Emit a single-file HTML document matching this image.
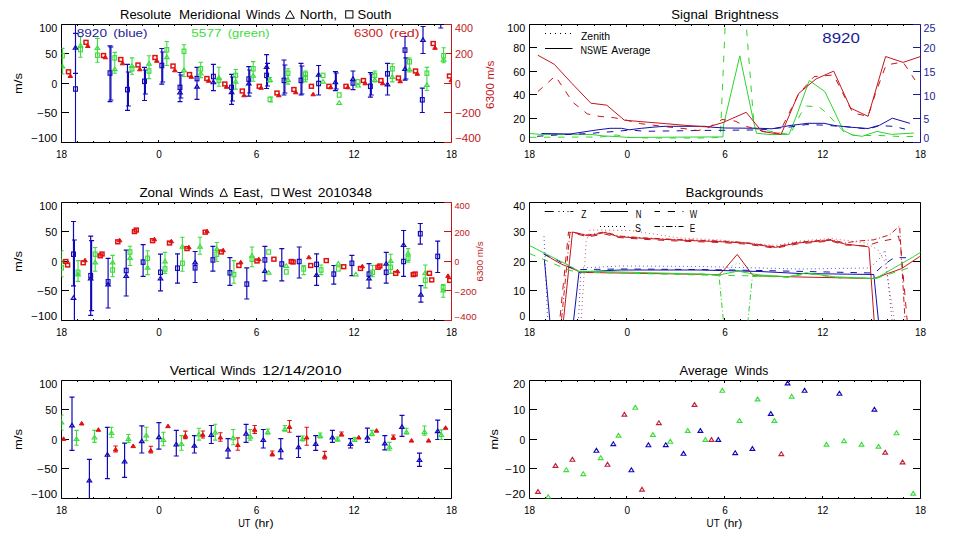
<!DOCTYPE html>
<html><head><meta charset="utf-8"><style>
html,body{margin:0;padding:0;background:#fff;}
svg{display:block;font-family:"Liberation Sans", sans-serif;}
</style></head><body>
<svg width="960" height="540" viewBox="0 0 960 540">
<defs>
<clipPath id="c1"><rect x="61.5" y="24.5" width="390" height="118"/></clipPath><clipPath id="c2"><rect x="529.5" y="24.5" width="391" height="118"/></clipPath><clipPath id="c3"><rect x="61.5" y="202.5" width="390" height="118"/></clipPath><clipPath id="c4"><rect x="529.5" y="202.5" width="391" height="118"/></clipPath><clipPath id="c5"><rect x="61.5" y="380.5" width="390" height="118"/></clipPath><clipPath id="c6"><rect x="529.5" y="380.5" width="391" height="118"/></clipPath>
</defs>
<rect width="960" height="540" fill="#fff"/>
<text x="120.0" y="18.8" font-size="12.5" text-anchor="start" fill="#000" textLength="51.3" lengthAdjust="spacingAndGlyphs">Resolute</text>
<text x="179.0" y="18.8" font-size="12.5" text-anchor="start" fill="#000" textLength="61.4" lengthAdjust="spacingAndGlyphs">Meridional</text>
<text x="246.1" y="18.8" font-size="12.5" text-anchor="start" fill="#000" textLength="34.2" lengthAdjust="spacingAndGlyphs">Winds</text>
<text x="299.7" y="18.8" font-size="12.5" text-anchor="start" fill="#000" textLength="37.4" lengthAdjust="spacingAndGlyphs">North,</text>
<text x="357.5" y="18.8" font-size="12.5" text-anchor="start" fill="#000" textLength="33.9" lengthAdjust="spacingAndGlyphs">South</text>
<path d="M285.5 18.3H294.4L289.9 10.5Z" stroke="#000" stroke-width="1" fill="none"/>
<rect x="345.7" y="10.8" width="7.2" height="7.2" stroke="#000" stroke-width="1" fill="none"/>
<text x="139.4" y="196.8" font-size="12.5" text-anchor="start" fill="#000" textLength="33.6" lengthAdjust="spacingAndGlyphs">Zonal</text>
<text x="179.4" y="196.8" font-size="12.5" text-anchor="start" fill="#000" textLength="34.2" lengthAdjust="spacingAndGlyphs">Winds</text>
<text x="233.3" y="196.8" font-size="12.5" text-anchor="start" fill="#000" textLength="30.0" lengthAdjust="spacingAndGlyphs">East,</text>
<text x="282.5" y="196.8" font-size="12.5" text-anchor="start" fill="#000" textLength="29.2" lengthAdjust="spacingAndGlyphs">West</text>
<text x="317.7" y="196.8" font-size="12.5" text-anchor="start" fill="#000" textLength="54.2" lengthAdjust="spacingAndGlyphs">2010348</text>
<path d="M220.0 196.3H227.5L223.8 188.5Z" stroke="#000" stroke-width="1" fill="none"/>
<rect x="271.9" y="188.8" width="6.8" height="6.8" stroke="#000" stroke-width="1" fill="none"/>
<text x="169.7" y="375.2" font-size="12.5" text-anchor="start" fill="#000" textLength="45.5" lengthAdjust="spacingAndGlyphs">Vertical</text>
<text x="220.7" y="375.2" font-size="12.5" text-anchor="start" fill="#000" textLength="34.9" lengthAdjust="spacingAndGlyphs">Winds</text>
<text x="261.9" y="375.2" font-size="12.5" text-anchor="start" fill="#000" textLength="79.8" lengthAdjust="spacingAndGlyphs">12/14/2010</text>
<text x="671.3" y="18.7" font-size="12.5" text-anchor="start" fill="#000" textLength="36.7" lengthAdjust="spacingAndGlyphs">Signal</text>
<text x="714.4" y="18.7" font-size="12.5" text-anchor="start" fill="#000" textLength="64.2" lengthAdjust="spacingAndGlyphs">Brightness</text>
<text x="685.6" y="196.6" font-size="12.5" text-anchor="start" fill="#000" textLength="77.5" lengthAdjust="spacingAndGlyphs">Backgrounds</text>
<text x="679.6" y="374.6" font-size="12.5" text-anchor="start" fill="#000" textLength="48.0" lengthAdjust="spacingAndGlyphs">Average</text>
<text x="734.8" y="374.6" font-size="12.5" text-anchor="start" fill="#000" textLength="33.4" lengthAdjust="spacingAndGlyphs">Winds</text>
<path d="M61.5 24.5H451.5M61.5 24.5V142.5H451.5" stroke="#000" stroke-width="1" fill="none"/>
<path d="M451.5 24.5V142.5" stroke="#c01818" stroke-width="1" fill="none"/>
<path d="M77.5 142.5v-1.5M77.5 24.5v1.5M93.5 142.5v-1.5M93.5 24.5v1.5M109.5 142.5v-1.5M109.5 24.5v1.5M126.5 142.5v-1.5M126.5 24.5v1.5M142.5 142.5v-1.5M142.5 24.5v1.5M158.5 142.5v-2.5M158.5 24.5v2.5M174.5 142.5v-1.5M174.5 24.5v1.5M191.5 142.5v-1.5M191.5 24.5v1.5M207.5 142.5v-1.5M207.5 24.5v1.5M223.5 142.5v-1.5M223.5 24.5v1.5M239.5 142.5v-1.5M239.5 24.5v1.5M256.5 142.5v-2.5M256.5 24.5v2.5M272.5 142.5v-1.5M272.5 24.5v1.5M288.5 142.5v-1.5M288.5 24.5v1.5M304.5 142.5v-1.5M304.5 24.5v1.5M321.5 142.5v-1.5M321.5 24.5v1.5M337.5 142.5v-1.5M337.5 24.5v1.5M353.5 142.5v-2.5M353.5 24.5v2.5M369.5 142.5v-1.5M369.5 24.5v1.5M386.5 142.5v-1.5M386.5 24.5v1.5M402.5 142.5v-1.5M402.5 24.5v1.5M418.5 142.5v-1.5M418.5 24.5v1.5M434.5 142.5v-1.5M434.5 24.5v1.5" stroke="#000" stroke-width="1" fill="none"/>
<text x="61.5" y="157.5" font-size="10" text-anchor="middle" fill="#000">18</text>
<text x="159.0" y="157.5" font-size="10" text-anchor="middle" fill="#000">0</text>
<text x="256.5" y="157.5" font-size="10" text-anchor="middle" fill="#000">6</text>
<text x="354.0" y="157.5" font-size="10" text-anchor="middle" fill="#000">12</text>
<text x="451.5" y="157.5" font-size="10" text-anchor="middle" fill="#000">18</text>
<path d="M61.5 142.5h7.5M61.5 112.5h7.5M61.5 83.5h7.5M61.5 53.5h7.5M61.5 24.5h7.5" stroke="#000" stroke-width="1" fill="none"/>
<text x="57.2" y="142.3" font-size="10" text-anchor="end" fill="#000" textLength="26.0" lengthAdjust="spacingAndGlyphs">−100</text>
<text x="57.2" y="117.0" font-size="10" text-anchor="end" fill="#000" textLength="19.9" lengthAdjust="spacingAndGlyphs">−50</text>
<text x="57.2" y="87.5" font-size="10" text-anchor="end" fill="#000" textLength="5.7" lengthAdjust="spacingAndGlyphs">0</text>
<text x="57.2" y="58.0" font-size="10" text-anchor="end" fill="#000" textLength="11.9" lengthAdjust="spacingAndGlyphs">50</text>
<text x="57.2" y="31.7" font-size="10" text-anchor="end" fill="#000" textLength="18.0" lengthAdjust="spacingAndGlyphs">100</text>
<path d="M451.5 142.5h-7.5M451.5 112.5h-7.5M451.5 83.5h-7.5M451.5 53.5h-7.5M451.5 24.5h-7.5" stroke="#c01818" stroke-width="1" fill="none"/>
<text x="455.0" y="142.3" font-size="10.5" text-anchor="start" fill="#c01818" textLength="26.0" lengthAdjust="spacingAndGlyphs">−400</text>
<text x="455.0" y="117.2" font-size="10.5" text-anchor="start" fill="#c01818" textLength="26.0" lengthAdjust="spacingAndGlyphs">−200</text>
<text x="455.0" y="87.7" font-size="10.5" text-anchor="start" fill="#c01818" textLength="5.7" lengthAdjust="spacingAndGlyphs">0</text>
<text x="455.0" y="58.2" font-size="10.5" text-anchor="start" fill="#c01818" textLength="18.0" lengthAdjust="spacingAndGlyphs">200</text>
<text x="455.0" y="32.0" font-size="10.5" text-anchor="start" fill="#c01818" textLength="18.0" lengthAdjust="spacingAndGlyphs">400</text>
<text transform="translate(22,83.5) rotate(-90)" x="0" y="0" font-size="10" text-anchor="middle" fill="#000" textLength="21" lengthAdjust="spacingAndGlyphs">m/s</text>
<text transform="translate(494,84.8) rotate(-90)" x="0" y="0" font-size="11" text-anchor="middle" fill="#c01818" textLength="48.5" lengthAdjust="spacingAndGlyphs">6300 m/s</text>
<path d="M61.5 202.5H451.5M61.5 202.5V320.5H451.5" stroke="#000" stroke-width="1" fill="none"/>
<path d="M451.5 202.5V320.5" stroke="#c01818" stroke-width="1" fill="none"/>
<path d="M77.5 320.5v-1.5M77.5 202.5v1.5M93.5 320.5v-1.5M93.5 202.5v1.5M109.5 320.5v-1.5M109.5 202.5v1.5M126.5 320.5v-1.5M126.5 202.5v1.5M142.5 320.5v-1.5M142.5 202.5v1.5M158.5 320.5v-2.5M158.5 202.5v2.5M174.5 320.5v-1.5M174.5 202.5v1.5M191.5 320.5v-1.5M191.5 202.5v1.5M207.5 320.5v-1.5M207.5 202.5v1.5M223.5 320.5v-1.5M223.5 202.5v1.5M239.5 320.5v-1.5M239.5 202.5v1.5M256.5 320.5v-2.5M256.5 202.5v2.5M272.5 320.5v-1.5M272.5 202.5v1.5M288.5 320.5v-1.5M288.5 202.5v1.5M304.5 320.5v-1.5M304.5 202.5v1.5M321.5 320.5v-1.5M321.5 202.5v1.5M337.5 320.5v-1.5M337.5 202.5v1.5M353.5 320.5v-2.5M353.5 202.5v2.5M369.5 320.5v-1.5M369.5 202.5v1.5M386.5 320.5v-1.5M386.5 202.5v1.5M402.5 320.5v-1.5M402.5 202.5v1.5M418.5 320.5v-1.5M418.5 202.5v1.5M434.5 320.5v-1.5M434.5 202.5v1.5" stroke="#000" stroke-width="1" fill="none"/>
<text x="61.5" y="335.5" font-size="10" text-anchor="middle" fill="#000">18</text>
<text x="159.0" y="335.5" font-size="10" text-anchor="middle" fill="#000">0</text>
<text x="256.5" y="335.5" font-size="10" text-anchor="middle" fill="#000">6</text>
<text x="354.0" y="335.5" font-size="10" text-anchor="middle" fill="#000">12</text>
<text x="451.5" y="335.5" font-size="10" text-anchor="middle" fill="#000">18</text>
<path d="M61.5 320.5h7.5M61.5 290.5h7.5M61.5 261.5h7.5M61.5 231.5h7.5M61.5 202.5h7.5" stroke="#000" stroke-width="1" fill="none"/>
<text x="57.2" y="320.3" font-size="10" text-anchor="end" fill="#000" textLength="26.0" lengthAdjust="spacingAndGlyphs">−100</text>
<text x="57.2" y="295.0" font-size="10" text-anchor="end" fill="#000" textLength="19.9" lengthAdjust="spacingAndGlyphs">−50</text>
<text x="57.2" y="265.5" font-size="10" text-anchor="end" fill="#000" textLength="5.7" lengthAdjust="spacingAndGlyphs">0</text>
<text x="57.2" y="236.0" font-size="10" text-anchor="end" fill="#000" textLength="11.9" lengthAdjust="spacingAndGlyphs">50</text>
<text x="57.2" y="209.7" font-size="10" text-anchor="end" fill="#000" textLength="18.0" lengthAdjust="spacingAndGlyphs">100</text>
<path d="M451.5 320.5h-7.5M451.5 290.5h-7.5M451.5 261.5h-7.5M451.5 231.5h-7.5M451.5 202.5h-7.5" stroke="#c01818" stroke-width="1" fill="none"/>
<text x="454.5" y="320.3" font-size="8.5" text-anchor="start" fill="#c01818" textLength="22.1" lengthAdjust="spacingAndGlyphs">−400</text>
<text x="454.5" y="294.5" font-size="8.5" text-anchor="start" fill="#c01818" textLength="22.1" lengthAdjust="spacingAndGlyphs">−200</text>
<text x="454.5" y="265.0" font-size="8.5" text-anchor="start" fill="#c01818" textLength="4.8" lengthAdjust="spacingAndGlyphs">0</text>
<text x="454.5" y="235.5" font-size="8.5" text-anchor="start" fill="#c01818" textLength="15.3" lengthAdjust="spacingAndGlyphs">200</text>
<text x="454.5" y="208.6" font-size="8.5" text-anchor="start" fill="#c01818" textLength="15.3" lengthAdjust="spacingAndGlyphs">400</text>
<text transform="translate(22,261.5) rotate(-90)" x="0" y="0" font-size="10" text-anchor="middle" fill="#000" textLength="21" lengthAdjust="spacingAndGlyphs">m/s</text>
<text transform="translate(483,261.5) rotate(-90)" x="0" y="0" font-size="9" text-anchor="middle" fill="#c01818" textLength="40" lengthAdjust="spacingAndGlyphs">6300 m/s</text>
<path d="M61.5 380.5H451.5M61.5 380.5V498.5H451.5" stroke="#000" stroke-width="1" fill="none"/>
<path d="M451.5 380.5V498.5" stroke="#000" stroke-width="1" fill="none"/>
<path d="M77.5 498.5v-1.5M77.5 380.5v1.5M93.5 498.5v-1.5M93.5 380.5v1.5M109.5 498.5v-1.5M109.5 380.5v1.5M126.5 498.5v-1.5M126.5 380.5v1.5M142.5 498.5v-1.5M142.5 380.5v1.5M158.5 498.5v-2.5M158.5 380.5v2.5M174.5 498.5v-1.5M174.5 380.5v1.5M191.5 498.5v-1.5M191.5 380.5v1.5M207.5 498.5v-1.5M207.5 380.5v1.5M223.5 498.5v-1.5M223.5 380.5v1.5M239.5 498.5v-1.5M239.5 380.5v1.5M256.5 498.5v-2.5M256.5 380.5v2.5M272.5 498.5v-1.5M272.5 380.5v1.5M288.5 498.5v-1.5M288.5 380.5v1.5M304.5 498.5v-1.5M304.5 380.5v1.5M321.5 498.5v-1.5M321.5 380.5v1.5M337.5 498.5v-1.5M337.5 380.5v1.5M353.5 498.5v-2.5M353.5 380.5v2.5M369.5 498.5v-1.5M369.5 380.5v1.5M386.5 498.5v-1.5M386.5 380.5v1.5M402.5 498.5v-1.5M402.5 380.5v1.5M418.5 498.5v-1.5M418.5 380.5v1.5M434.5 498.5v-1.5M434.5 380.5v1.5" stroke="#000" stroke-width="1" fill="none"/>
<text x="61.5" y="513.5" font-size="10" text-anchor="middle" fill="#000">18</text>
<text x="159.0" y="513.5" font-size="10" text-anchor="middle" fill="#000">0</text>
<text x="256.5" y="513.5" font-size="10" text-anchor="middle" fill="#000">6</text>
<text x="354.0" y="513.5" font-size="10" text-anchor="middle" fill="#000">12</text>
<text x="451.5" y="513.5" font-size="10" text-anchor="middle" fill="#000">18</text>
<path d="M61.5 498.5h7.5M61.5 468.5h7.5M61.5 439.5h7.5M61.5 409.5h7.5M61.5 380.5h7.5" stroke="#000" stroke-width="1" fill="none"/>
<text x="57.2" y="498.3" font-size="10" text-anchor="end" fill="#000" textLength="26.0" lengthAdjust="spacingAndGlyphs">−100</text>
<text x="57.2" y="473.0" font-size="10" text-anchor="end" fill="#000" textLength="19.9" lengthAdjust="spacingAndGlyphs">−50</text>
<text x="57.2" y="443.5" font-size="10" text-anchor="end" fill="#000" textLength="5.7" lengthAdjust="spacingAndGlyphs">0</text>
<text x="57.2" y="414.0" font-size="10" text-anchor="end" fill="#000" textLength="11.9" lengthAdjust="spacingAndGlyphs">50</text>
<text x="57.2" y="387.7" font-size="10" text-anchor="end" fill="#000" textLength="18.0" lengthAdjust="spacingAndGlyphs">100</text>
<path d="M451.5 498.5h-7.5M451.5 468.5h-7.5M451.5 439.5h-7.5M451.5 409.5h-7.5M451.5 380.5h-7.5" stroke="#000" stroke-width="1" fill="none"/>
<text transform="translate(22,439.5) rotate(-90)" x="0" y="0" font-size="10" text-anchor="middle" fill="#000" textLength="21" lengthAdjust="spacingAndGlyphs">m/s</text>
<text x="238.2" y="526.8" font-size="10.5" text-anchor="start" fill="#000" textLength="12.3" lengthAdjust="spacingAndGlyphs">UT</text>
<text x="254.4" y="526.8" font-size="10.5" text-anchor="start" fill="#000" textLength="19.2" lengthAdjust="spacingAndGlyphs">(hr)</text>
<path d="M529.5 24.5H920.5M529.5 24.5V142.5H920.5" stroke="#000" stroke-width="1" fill="none"/>
<path d="M920.5 24.5V142.5" stroke="#1c1c96" stroke-width="1" fill="none"/>
<path d="M545.5 142.5v-1.5M545.5 24.5v1.5M561.5 142.5v-1.5M561.5 24.5v1.5M577.5 142.5v-1.5M577.5 24.5v1.5M594.5 142.5v-1.5M594.5 24.5v1.5M610.5 142.5v-1.5M610.5 24.5v1.5M626.5 142.5v-2.5M626.5 24.5v2.5M643.5 142.5v-1.5M643.5 24.5v1.5M659.5 142.5v-1.5M659.5 24.5v1.5M675.5 142.5v-1.5M675.5 24.5v1.5M691.5 142.5v-1.5M691.5 24.5v1.5M708.5 142.5v-1.5M708.5 24.5v1.5M724.5 142.5v-2.5M724.5 24.5v2.5M740.5 142.5v-1.5M740.5 24.5v1.5M757.5 142.5v-1.5M757.5 24.5v1.5M773.5 142.5v-1.5M773.5 24.5v1.5M789.5 142.5v-1.5M789.5 24.5v1.5M805.5 142.5v-1.5M805.5 24.5v1.5M822.5 142.5v-2.5M822.5 24.5v2.5M838.5 142.5v-1.5M838.5 24.5v1.5M854.5 142.5v-1.5M854.5 24.5v1.5M871.5 142.5v-1.5M871.5 24.5v1.5M887.5 142.5v-1.5M887.5 24.5v1.5M903.5 142.5v-1.5M903.5 24.5v1.5" stroke="#000" stroke-width="1" fill="none"/>
<text x="529.5" y="157.5" font-size="10" text-anchor="middle" fill="#000">18</text>
<text x="627.2" y="157.5" font-size="10" text-anchor="middle" fill="#000">0</text>
<text x="725.0" y="157.5" font-size="10" text-anchor="middle" fill="#000">6</text>
<text x="822.8" y="157.5" font-size="10" text-anchor="middle" fill="#000">12</text>
<text x="920.5" y="157.5" font-size="10" text-anchor="middle" fill="#000">18</text>
<path d="M529.5 142.5h7.5M529.5 118.5h7.5M529.5 94.5h7.5M529.5 71.5h7.5M529.5 47.5h7.5M529.5 24.5h7.5" stroke="#000" stroke-width="1" fill="none"/>
<text x="525.2" y="142.3" font-size="10" text-anchor="end" fill="#000" textLength="5.7" lengthAdjust="spacingAndGlyphs">0</text>
<text x="525.2" y="122.9" font-size="10" text-anchor="end" fill="#000" textLength="11.9" lengthAdjust="spacingAndGlyphs">20</text>
<text x="525.2" y="99.3" font-size="10" text-anchor="end" fill="#000" textLength="11.9" lengthAdjust="spacingAndGlyphs">40</text>
<text x="525.2" y="75.7" font-size="10" text-anchor="end" fill="#000" textLength="11.9" lengthAdjust="spacingAndGlyphs">60</text>
<text x="525.2" y="52.1" font-size="10" text-anchor="end" fill="#000" textLength="11.9" lengthAdjust="spacingAndGlyphs">80</text>
<text x="525.2" y="31.7" font-size="10" text-anchor="end" fill="#000" textLength="18.0" lengthAdjust="spacingAndGlyphs">100</text>
<path d="M920.5 142.5h-7.5M920.5 118.5h-7.5M920.5 94.5h-7.5M920.5 71.5h-7.5M920.5 47.5h-7.5M920.5 24.5h-7.5" stroke="#1c1c96" stroke-width="1" fill="none"/>
<text x="923.5" y="142.3" font-size="10.5" text-anchor="start" fill="#1c1c96" textLength="5.7" lengthAdjust="spacingAndGlyphs">0</text>
<text x="923.5" y="123.1" font-size="10.5" text-anchor="start" fill="#1c1c96" textLength="5.7" lengthAdjust="spacingAndGlyphs">5</text>
<text x="923.5" y="99.5" font-size="10.5" text-anchor="start" fill="#1c1c96" textLength="11.9" lengthAdjust="spacingAndGlyphs">10</text>
<text x="923.5" y="75.9" font-size="10.5" text-anchor="start" fill="#1c1c96" textLength="11.9" lengthAdjust="spacingAndGlyphs">15</text>
<text x="923.5" y="52.3" font-size="10.5" text-anchor="start" fill="#1c1c96" textLength="11.9" lengthAdjust="spacingAndGlyphs">20</text>
<text x="923.5" y="32.0" font-size="10.5" text-anchor="start" fill="#1c1c96" textLength="11.9" lengthAdjust="spacingAndGlyphs">25</text>
<path d="M529.5 202.5H920.5M529.5 202.5V320.5H920.5" stroke="#000" stroke-width="1" fill="none"/>
<path d="M920.5 202.5V320.5" stroke="#000" stroke-width="1" fill="none"/>
<path d="M545.5 320.5v-1.5M545.5 202.5v1.5M561.5 320.5v-1.5M561.5 202.5v1.5M577.5 320.5v-1.5M577.5 202.5v1.5M594.5 320.5v-1.5M594.5 202.5v1.5M610.5 320.5v-1.5M610.5 202.5v1.5M626.5 320.5v-2.5M626.5 202.5v2.5M643.5 320.5v-1.5M643.5 202.5v1.5M659.5 320.5v-1.5M659.5 202.5v1.5M675.5 320.5v-1.5M675.5 202.5v1.5M691.5 320.5v-1.5M691.5 202.5v1.5M708.5 320.5v-1.5M708.5 202.5v1.5M724.5 320.5v-2.5M724.5 202.5v2.5M740.5 320.5v-1.5M740.5 202.5v1.5M757.5 320.5v-1.5M757.5 202.5v1.5M773.5 320.5v-1.5M773.5 202.5v1.5M789.5 320.5v-1.5M789.5 202.5v1.5M805.5 320.5v-1.5M805.5 202.5v1.5M822.5 320.5v-2.5M822.5 202.5v2.5M838.5 320.5v-1.5M838.5 202.5v1.5M854.5 320.5v-1.5M854.5 202.5v1.5M871.5 320.5v-1.5M871.5 202.5v1.5M887.5 320.5v-1.5M887.5 202.5v1.5M903.5 320.5v-1.5M903.5 202.5v1.5" stroke="#000" stroke-width="1" fill="none"/>
<text x="529.5" y="335.5" font-size="10" text-anchor="middle" fill="#000">18</text>
<text x="627.2" y="335.5" font-size="10" text-anchor="middle" fill="#000">0</text>
<text x="725.0" y="335.5" font-size="10" text-anchor="middle" fill="#000">6</text>
<text x="822.8" y="335.5" font-size="10" text-anchor="middle" fill="#000">12</text>
<text x="920.5" y="335.5" font-size="10" text-anchor="middle" fill="#000">18</text>
<path d="M529.5 320.5h7.5M529.5 290.5h7.5M529.5 261.5h7.5M529.5 231.5h7.5M529.5 202.5h7.5" stroke="#000" stroke-width="1" fill="none"/>
<text x="525.2" y="320.3" font-size="10" text-anchor="end" fill="#000" textLength="5.7" lengthAdjust="spacingAndGlyphs">0</text>
<text x="525.2" y="295.0" font-size="10" text-anchor="end" fill="#000" textLength="11.9" lengthAdjust="spacingAndGlyphs">10</text>
<text x="525.2" y="265.5" font-size="10" text-anchor="end" fill="#000" textLength="11.9" lengthAdjust="spacingAndGlyphs">20</text>
<text x="525.2" y="236.0" font-size="10" text-anchor="end" fill="#000" textLength="11.9" lengthAdjust="spacingAndGlyphs">30</text>
<text x="525.2" y="209.7" font-size="10" text-anchor="end" fill="#000" textLength="11.9" lengthAdjust="spacingAndGlyphs">40</text>
<path d="M920.5 320.5h-7.5M920.5 290.5h-7.5M920.5 261.5h-7.5M920.5 231.5h-7.5M920.5 202.5h-7.5" stroke="#000" stroke-width="1" fill="none"/>
<path d="M529.5 380.5H920.5M529.5 380.5V498.5H920.5" stroke="#000" stroke-width="1" fill="none"/>
<path d="M920.5 380.5V498.5" stroke="#000" stroke-width="1" fill="none"/>
<path d="M545.5 498.5v-1.5M545.5 380.5v1.5M561.5 498.5v-1.5M561.5 380.5v1.5M577.5 498.5v-1.5M577.5 380.5v1.5M594.5 498.5v-1.5M594.5 380.5v1.5M610.5 498.5v-1.5M610.5 380.5v1.5M626.5 498.5v-2.5M626.5 380.5v2.5M643.5 498.5v-1.5M643.5 380.5v1.5M659.5 498.5v-1.5M659.5 380.5v1.5M675.5 498.5v-1.5M675.5 380.5v1.5M691.5 498.5v-1.5M691.5 380.5v1.5M708.5 498.5v-1.5M708.5 380.5v1.5M724.5 498.5v-2.5M724.5 380.5v2.5M740.5 498.5v-1.5M740.5 380.5v1.5M757.5 498.5v-1.5M757.5 380.5v1.5M773.5 498.5v-1.5M773.5 380.5v1.5M789.5 498.5v-1.5M789.5 380.5v1.5M805.5 498.5v-1.5M805.5 380.5v1.5M822.5 498.5v-2.5M822.5 380.5v2.5M838.5 498.5v-1.5M838.5 380.5v1.5M854.5 498.5v-1.5M854.5 380.5v1.5M871.5 498.5v-1.5M871.5 380.5v1.5M887.5 498.5v-1.5M887.5 380.5v1.5M903.5 498.5v-1.5M903.5 380.5v1.5" stroke="#000" stroke-width="1" fill="none"/>
<text x="529.5" y="513.5" font-size="10" text-anchor="middle" fill="#000">18</text>
<text x="627.2" y="513.5" font-size="10" text-anchor="middle" fill="#000">0</text>
<text x="725.0" y="513.5" font-size="10" text-anchor="middle" fill="#000">6</text>
<text x="822.8" y="513.5" font-size="10" text-anchor="middle" fill="#000">12</text>
<text x="920.5" y="513.5" font-size="10" text-anchor="middle" fill="#000">18</text>
<path d="M529.5 498.5h7.5M529.5 468.5h7.5M529.5 439.5h7.5M529.5 409.5h7.5M529.5 380.5h7.5" stroke="#000" stroke-width="1" fill="none"/>
<text x="525.2" y="498.3" font-size="10" text-anchor="end" fill="#000" textLength="19.9" lengthAdjust="spacingAndGlyphs">−20</text>
<text x="525.2" y="473.0" font-size="10" text-anchor="end" fill="#000" textLength="19.9" lengthAdjust="spacingAndGlyphs">−10</text>
<text x="525.2" y="443.5" font-size="10" text-anchor="end" fill="#000" textLength="5.7" lengthAdjust="spacingAndGlyphs">0</text>
<text x="525.2" y="414.0" font-size="10" text-anchor="end" fill="#000" textLength="11.9" lengthAdjust="spacingAndGlyphs">10</text>
<text x="525.2" y="387.7" font-size="10" text-anchor="end" fill="#000" textLength="11.9" lengthAdjust="spacingAndGlyphs">20</text>
<path d="M920.5 498.5h-7.5M920.5 468.5h-7.5M920.5 439.5h-7.5M920.5 409.5h-7.5M920.5 380.5h-7.5" stroke="#000" stroke-width="1" fill="none"/>
<text transform="translate(498.2,439.4) rotate(-90)" x="0" y="0" font-size="10" text-anchor="middle" fill="#000" textLength="20.4" lengthAdjust="spacingAndGlyphs">m/s</text>
<text x="706.6" y="526.9" font-size="10.5" text-anchor="start" fill="#000" textLength="13.1" lengthAdjust="spacingAndGlyphs">UT</text>
<text x="723.7" y="526.9" font-size="10.5" text-anchor="start" fill="#000" textLength="18.6" lengthAdjust="spacingAndGlyphs">(hr)</text>
<g clip-path="url(#c1)"><path d="M62.4 48.4V74.0M60.2 48.4h4.4M60.2 74.0h4.4" stroke="#3fdc3f" stroke-width="1.1" fill="none"/><rect x="60.5" y="53.5" width="3.8" height="4.4" stroke="#3fdc3f" stroke-width="1.15" fill="none"/><path d="M60.1 67.8H64.7L62.4 64.2Z" stroke="#3fdc3f" stroke-width="1.15" fill="none" stroke-linejoin="miter"/><rect x="66.5" y="69.9" width="4.0" height="3.8" stroke="#e01010" stroke-width="1.5" fill="none"/><path d="M68.0 77.5H72.6L70.3 73.9Z" stroke="#e01010" stroke-width="1.0" fill="#e01010" stroke-linejoin="miter"/><path d="M75.5 10.0V160.0M73.0 10.0h5.0M73.0 160.0h5.0" stroke="#1008b8" stroke-width="1.1" fill="none"/><path d="M75.5 33.4V73.4M73.0 33.4h5.0M73.0 73.4h5.0" stroke="#1008b8" stroke-width="1.1" fill="none"/><path d="M73.2 49.1H77.8L75.5 45.5Z" stroke="#1008b8" stroke-width="1.15" fill="none" stroke-linejoin="miter"/><rect x="73.6" y="86.8" width="3.8" height="4.4" stroke="#1008b8" stroke-width="1.15" fill="none"/><path d="M80.5 36.8V57.3M78.3 36.8h4.4M78.3 57.3h4.4" stroke="#3fdc3f" stroke-width="1.1" fill="none"/><path d="M78.2 46.8H82.8L80.5 43.2Z" stroke="#3fdc3f" stroke-width="1.15" fill="none" stroke-linejoin="miter"/><rect x="78.6" y="47.4" width="3.8" height="4.4" stroke="#3fdc3f" stroke-width="1.15" fill="none"/><rect x="84.0" y="40.4" width="4.0" height="3.8" stroke="#e01010" stroke-width="1.5" fill="none"/><path d="M85.5 47.5H90.1L87.8 43.9Z" stroke="#e01010" stroke-width="1.0" fill="#e01010" stroke-linejoin="miter"/><path d="M97.4 38.4V62.3M95.2 38.4h4.4M95.2 62.3h4.4" stroke="#3fdc3f" stroke-width="1.1" fill="none"/><path d="M95.1 49.3H99.7L97.4 45.7Z" stroke="#3fdc3f" stroke-width="1.15" fill="none" stroke-linejoin="miter"/><rect x="95.5" y="53.0" width="3.8" height="4.4" stroke="#3fdc3f" stroke-width="1.15" fill="none"/><rect x="101.5" y="53.6" width="4.0" height="3.8" stroke="#e01010" stroke-width="1.5" fill="none"/><path d="M103.0 58.8H107.6L105.3 55.2Z" stroke="#e01010" stroke-width="1.0" fill="#e01010" stroke-linejoin="miter"/><path d="M110.0 45.9V101.6M107.5 45.9h5.0M107.5 101.6h5.0" stroke="#1008b8" stroke-width="1.2" fill="none"/><path d="M110.9 47.0V100.0M108.4 47.0h5.0M108.4 100.0h5.0" stroke="#1008b8" stroke-width="1.2" fill="none"/><rect x="108.1" y="70.8" width="3.8" height="4.4" stroke="#1008b8" stroke-width="1.15" fill="none"/><path d="M114.8 52.4V73.2M112.6 52.4h4.4M112.6 73.2h4.4" stroke="#3fdc3f" stroke-width="1.1" fill="none"/><rect x="112.9" y="55.7" width="3.8" height="4.4" stroke="#3fdc3f" stroke-width="1.15" fill="none"/><path d="M112.5 70.6H117.1L114.8 67.0Z" stroke="#3fdc3f" stroke-width="1.15" fill="none" stroke-linejoin="miter"/><rect x="118.8" y="57.6" width="4.0" height="3.8" stroke="#e01010" stroke-width="1.5" fill="none"/><path d="M120.3 64.8H124.9L122.6 61.2Z" stroke="#e01010" stroke-width="1.0" fill="#e01010" stroke-linejoin="miter"/><path d="M127.5 64.4V110.3M125.0 64.4h5.0M125.0 110.3h5.0" stroke="#1008b8" stroke-width="1.2" fill="none"/><path d="M128.4 72.0V106.0M125.9 72.0h5.0M125.9 106.0h5.0" stroke="#1008b8" stroke-width="1.2" fill="none"/><rect x="125.6" y="87.4" width="3.8" height="4.4" stroke="#1008b8" stroke-width="1.15" fill="none"/><path d="M132.0 57.9V74.3M129.8 57.9h4.4M129.8 74.3h4.4" stroke="#3fdc3f" stroke-width="1.1" fill="none"/><path d="M129.7 67.3H134.3L132.0 63.7Z" stroke="#3fdc3f" stroke-width="1.15" fill="none" stroke-linejoin="miter"/><rect x="130.1" y="66.6" width="3.8" height="4.4" stroke="#3fdc3f" stroke-width="1.15" fill="none"/><rect x="136.0" y="63.1" width="4.0" height="3.8" stroke="#e01010" stroke-width="1.5" fill="none"/><path d="M137.5 70.8H142.1L139.8 67.2Z" stroke="#e01010" stroke-width="1.0" fill="#e01010" stroke-linejoin="miter"/><path d="M144.5 67.3V100.5M142.0 67.3h5.0M142.0 100.5h5.0" stroke="#1008b8" stroke-width="1.2" fill="none"/><path d="M145.4 70.0V94.0M142.9 70.0h5.0M142.9 94.0h5.0" stroke="#1008b8" stroke-width="1.2" fill="none"/><rect x="142.6" y="79.1" width="3.8" height="4.4" stroke="#1008b8" stroke-width="1.15" fill="none"/><path d="M149.0 55.7V78.6M146.8 55.7h4.4M146.8 78.6h4.4" stroke="#3fdc3f" stroke-width="1.1" fill="none"/><path d="M146.7 65.1H151.3L149.0 61.5Z" stroke="#3fdc3f" stroke-width="1.15" fill="none" stroke-linejoin="miter"/><rect x="147.1" y="68.8" width="3.8" height="4.4" stroke="#3fdc3f" stroke-width="1.15" fill="none"/><rect x="153.0" y="55.6" width="4.0" height="3.8" stroke="#e01010" stroke-width="1.5" fill="none"/><path d="M154.5 62.3H159.1L156.8 58.7Z" stroke="#e01010" stroke-width="1.0" fill="#e01010" stroke-linejoin="miter"/><path d="M161.8 48.5V84.1M159.3 48.5h5.0M159.3 84.1h5.0" stroke="#1008b8" stroke-width="1.2" fill="none"/><path d="M162.7 52.0V82.0M160.2 52.0h5.0M160.2 82.0h5.0" stroke="#1008b8" stroke-width="1.2" fill="none"/><rect x="159.9" y="63.3" width="3.8" height="4.4" stroke="#1008b8" stroke-width="1.15" fill="none"/><path d="M166.8 41.5V65.5M164.6 41.5h4.4M164.6 65.5h4.4" stroke="#3fdc3f" stroke-width="1.1" fill="none"/><path d="M164.5 58.6H169.1L166.8 55.0Z" stroke="#3fdc3f" stroke-width="1.15" fill="none" stroke-linejoin="miter"/><rect x="164.9" y="47.6" width="3.8" height="4.4" stroke="#3fdc3f" stroke-width="1.15" fill="none"/><rect x="171.0" y="64.1" width="4.0" height="3.8" stroke="#e01010" stroke-width="1.5" fill="none"/><path d="M172.5 71.8H177.1L174.8 68.2Z" stroke="#e01010" stroke-width="1.0" fill="#e01010" stroke-linejoin="miter"/><path d="M180.0 72.5V101.6M177.5 72.5h5.0M177.5 101.6h5.0" stroke="#1008b8" stroke-width="1.2" fill="none"/><path d="M180.9 75.0V98.0M178.4 75.0h5.0M178.4 98.0h5.0" stroke="#1008b8" stroke-width="1.2" fill="none"/><rect x="178.1" y="85.2" width="3.8" height="4.4" stroke="#1008b8" stroke-width="1.15" fill="none"/><path d="M177.7 93.8H182.3L180.0 90.2Z" stroke="#1008b8" stroke-width="1.15" fill="none" stroke-linejoin="miter"/><path d="M184.0 44.8V76.5M181.8 44.8h4.4M181.8 76.5h4.4" stroke="#3fdc3f" stroke-width="1.1" fill="none"/><rect x="182.1" y="49.1" width="3.8" height="4.4" stroke="#3fdc3f" stroke-width="1.15" fill="none"/><path d="M181.7 71.7H186.3L184.0 68.1Z" stroke="#3fdc3f" stroke-width="1.15" fill="none" stroke-linejoin="miter"/><rect x="187.5" y="72.6" width="4.0" height="3.8" stroke="#e01010" stroke-width="1.5" fill="none"/><path d="M189.0 78.3H193.6L191.3 74.7Z" stroke="#e01010" stroke-width="1.0" fill="#e01010" stroke-linejoin="miter"/><path d="M197.0 67.3V99.4M194.5 67.3h5.0M194.5 99.4h5.0" stroke="#1008b8" stroke-width="1.2" fill="none"/><rect x="195.1" y="76.4" width="3.8" height="4.4" stroke="#1008b8" stroke-width="1.15" fill="none"/><path d="M194.7 88.1H199.3L197.0 84.5Z" stroke="#1008b8" stroke-width="1.15" fill="none" stroke-linejoin="miter"/><path d="M200.7 62.3V77.6M198.5 62.3h4.4M198.5 77.6h4.4" stroke="#3fdc3f" stroke-width="1.1" fill="none"/><rect x="198.8" y="66.6" width="3.8" height="4.4" stroke="#3fdc3f" stroke-width="1.15" fill="none"/><path d="M198.4 75.0H203.0L200.7 71.4Z" stroke="#3fdc3f" stroke-width="1.15" fill="none" stroke-linejoin="miter"/><rect x="204.9" y="76.6" width="4.0" height="3.8" stroke="#e01010" stroke-width="1.5" fill="none"/><path d="M206.4 82.3H211.0L208.7 78.7Z" stroke="#e01010" stroke-width="1.0" fill="#e01010" stroke-linejoin="miter"/><path d="M213.4 64.4V90.7M210.9 64.4h5.0M210.9 90.7h5.0" stroke="#1008b8" stroke-width="1.2" fill="none"/><rect x="211.5" y="74.3" width="3.8" height="4.4" stroke="#1008b8" stroke-width="1.15" fill="none"/><path d="M211.1 83.7H215.7L213.4 80.1Z" stroke="#1008b8" stroke-width="1.15" fill="none" stroke-linejoin="miter"/><path d="M218.9 67.3V86.3M216.7 67.3h4.4M216.7 86.3h4.4" stroke="#3fdc3f" stroke-width="1.1" fill="none"/><path d="M216.6 79.4H221.2L218.9 75.8Z" stroke="#3fdc3f" stroke-width="1.15" fill="none" stroke-linejoin="miter"/><rect x="217.0" y="78.2" width="3.8" height="4.4" stroke="#3fdc3f" stroke-width="1.15" fill="none"/><rect x="222.8" y="82.1" width="4.0" height="3.8" stroke="#e01010" stroke-width="1.5" fill="none"/><path d="M224.3 88.3H228.9L226.6 84.7Z" stroke="#e01010" stroke-width="1.0" fill="#e01010" stroke-linejoin="miter"/><path d="M231.6 74.3V104.4M229.1 74.3h5.0M229.1 104.4h5.0" stroke="#1008b8" stroke-width="1.2" fill="none"/><path d="M232.5 77.0V101.0M230.0 77.0h5.0M230.0 101.0h5.0" stroke="#1008b8" stroke-width="1.2" fill="none"/><rect x="229.7" y="85.2" width="3.8" height="4.4" stroke="#1008b8" stroke-width="1.15" fill="none"/><path d="M229.3 93.6H233.9L231.6 90.0Z" stroke="#1008b8" stroke-width="1.15" fill="none" stroke-linejoin="miter"/><path d="M235.7 69.5V89.1M233.5 69.5h4.4M233.5 89.1h4.4" stroke="#3fdc3f" stroke-width="1.1" fill="none"/><rect x="233.8" y="73.2" width="3.8" height="4.4" stroke="#3fdc3f" stroke-width="1.15" fill="none"/><path d="M233.4 83.1H238.0L235.7 79.5Z" stroke="#3fdc3f" stroke-width="1.15" fill="none" stroke-linejoin="miter"/><rect x="240.3" y="89.1" width="4.0" height="3.8" stroke="#e01010" stroke-width="1.5" fill="none"/><path d="M241.8 96.8H246.4L244.1 93.2Z" stroke="#e01010" stroke-width="1.0" fill="#e01010" stroke-linejoin="miter"/><path d="M248.8 66.6V96.1M246.3 66.6h5.0M246.3 96.1h5.0" stroke="#1008b8" stroke-width="1.2" fill="none"/><path d="M249.7 70.0V93.0M247.2 70.0h5.0M247.2 93.0h5.0" stroke="#1008b8" stroke-width="1.2" fill="none"/><rect x="246.9" y="76.9" width="3.8" height="4.4" stroke="#1008b8" stroke-width="1.15" fill="none"/><path d="M246.5 84.8H251.1L248.8 81.2Z" stroke="#1008b8" stroke-width="1.15" fill="none" stroke-linejoin="miter"/><path d="M253.2 61.6V81.3M251.0 61.6h4.4M251.0 81.3h4.4" stroke="#3fdc3f" stroke-width="1.1" fill="none"/><rect x="251.3" y="66.6" width="3.8" height="4.4" stroke="#3fdc3f" stroke-width="1.15" fill="none"/><path d="M250.9 77.2H255.5L253.2 73.6Z" stroke="#3fdc3f" stroke-width="1.15" fill="none" stroke-linejoin="miter"/><rect x="257.3" y="84.4" width="4.0" height="3.8" stroke="#e01010" stroke-width="1.5" fill="none"/><path d="M258.8 89.3H263.4L261.1 85.7Z" stroke="#e01010" stroke-width="1.0" fill="#e01010" stroke-linejoin="miter"/><path d="M266.6 54.6V88.5M264.1 54.6h5.0M264.1 88.5h5.0" stroke="#1008b8" stroke-width="1.2" fill="none"/><path d="M267.5 63.3V86.0M265.0 63.3h5.0M265.0 86.0h5.0" stroke="#1008b8" stroke-width="1.2" fill="none"/><path d="M264.3 68.4H268.9L266.6 64.8Z" stroke="#1008b8" stroke-width="1.15" fill="none" stroke-linejoin="miter"/><rect x="264.7" y="73.2" width="3.8" height="4.4" stroke="#1008b8" stroke-width="1.15" fill="none"/><path d="M270.0 77.5V82.0M267.8 77.5h4.4M267.8 82.0h4.4" stroke="#3fdc3f" stroke-width="1.1" fill="none"/><path d="M270.9 97.0V102.0M268.7 97.0h4.4M268.7 102.0h4.4" stroke="#3fdc3f" stroke-width="1.1" fill="none"/><path d="M267.7 81.5H272.3L270.0 77.9Z" stroke="#3fdc3f" stroke-width="1.15" fill="none" stroke-linejoin="miter"/><rect x="268.1" y="97.2" width="3.8" height="4.4" stroke="#3fdc3f" stroke-width="1.15" fill="none"/><rect x="275.0" y="91.1" width="4.0" height="3.8" stroke="#e01010" stroke-width="1.5" fill="none"/><path d="M276.5 96.8H281.1L278.8 93.2Z" stroke="#e01010" stroke-width="1.0" fill="#e01010" stroke-linejoin="miter"/><path d="M284.0 60.0V95.0M281.5 60.0h5.0M281.5 95.0h5.0" stroke="#1008b8" stroke-width="1.2" fill="none"/><path d="M284.9 65.0V93.0M282.4 65.0h5.0M282.4 93.0h5.0" stroke="#1008b8" stroke-width="1.2" fill="none"/><rect x="282.1" y="78.2" width="3.8" height="4.4" stroke="#1008b8" stroke-width="1.15" fill="none"/><path d="M288.0 68.8V84.1M285.8 68.8h4.4M285.8 84.1h4.4" stroke="#3fdc3f" stroke-width="1.1" fill="none"/><rect x="286.1" y="71.0" width="3.8" height="4.4" stroke="#3fdc3f" stroke-width="1.15" fill="none"/><path d="M285.7 81.5H290.3L288.0 77.9Z" stroke="#3fdc3f" stroke-width="1.15" fill="none" stroke-linejoin="miter"/><rect x="291.9" y="87.6" width="4.0" height="3.8" stroke="#e01010" stroke-width="1.5" fill="none"/><path d="M293.4 93.8H298.0L295.7 90.2Z" stroke="#e01010" stroke-width="1.0" fill="#e01010" stroke-linejoin="miter"/><path d="M301.0 63.3V95.0M298.5 63.3h5.0M298.5 95.0h5.0" stroke="#1008b8" stroke-width="1.2" fill="none"/><path d="M301.9 66.0V94.0M299.4 66.0h5.0M299.4 94.0h5.0" stroke="#1008b8" stroke-width="1.2" fill="none"/><rect x="299.1" y="78.2" width="3.8" height="4.4" stroke="#1008b8" stroke-width="1.15" fill="none"/><path d="M305.5 71.0V81.9M303.3 71.0h4.4M303.3 81.9h4.4" stroke="#3fdc3f" stroke-width="1.1" fill="none"/><rect x="303.6" y="72.1" width="3.8" height="4.4" stroke="#3fdc3f" stroke-width="1.15" fill="none"/><rect x="303.6" y="75.4" width="3.8" height="4.4" stroke="#3fdc3f" stroke-width="1.15" fill="none"/><rect x="309.4" y="84.4" width="4.0" height="3.8" stroke="#e01010" stroke-width="1.5" fill="none"/><path d="M310.9 95.8H315.5L313.2 92.2Z" stroke="#e01010" stroke-width="1.0" fill="#e01010" stroke-linejoin="miter"/><path d="M318.6 65.5V95.0M316.1 65.5h5.0M316.1 95.0h5.0" stroke="#1008b8" stroke-width="1.2" fill="none"/><path d="M316.3 76.1H320.9L318.6 72.5Z" stroke="#1008b8" stroke-width="1.15" fill="none" stroke-linejoin="miter"/><rect x="316.7" y="81.3" width="3.8" height="4.4" stroke="#1008b8" stroke-width="1.15" fill="none"/><rect x="321.1" y="73.2" width="3.8" height="4.4" stroke="#3fdc3f" stroke-width="1.15" fill="none"/><path d="M320.7 83.1H325.3L323.0 79.5Z" stroke="#3fdc3f" stroke-width="1.15" fill="none" stroke-linejoin="miter"/><rect x="326.9" y="84.4" width="4.0" height="3.8" stroke="#e01010" stroke-width="1.5" fill="none"/><path d="M328.4 88.8H333.0L330.7 85.2Z" stroke="#e01010" stroke-width="1.0" fill="#e01010" stroke-linejoin="miter"/><path d="M335.4 71.6V90.7M332.9 71.6h5.0M332.9 90.7h5.0" stroke="#1008b8" stroke-width="1.2" fill="none"/><path d="M336.3 73.0V89.0M333.8 73.0h5.0M333.8 89.0h5.0" stroke="#1008b8" stroke-width="1.2" fill="none"/><path d="M333.1 83.7H337.7L335.4 80.1Z" stroke="#1008b8" stroke-width="1.15" fill="none" stroke-linejoin="miter"/><rect x="337.3" y="92.8" width="3.8" height="4.4" stroke="#3fdc3f" stroke-width="1.15" fill="none"/><path d="M336.9 104.3H341.5L339.2 100.7Z" stroke="#3fdc3f" stroke-width="1.15" fill="none" stroke-linejoin="miter"/><rect x="344.0" y="84.4" width="4.0" height="3.8" stroke="#e01010" stroke-width="1.5" fill="none"/><path d="M345.5 88.8H350.1L347.8 85.2Z" stroke="#e01010" stroke-width="1.0" fill="#e01010" stroke-linejoin="miter"/><path d="M353.0 71.0V89.6M350.5 71.0h5.0M350.5 89.6h5.0" stroke="#1008b8" stroke-width="1.2" fill="none"/><rect x="351.1" y="80.8" width="3.8" height="4.4" stroke="#1008b8" stroke-width="1.15" fill="none"/><path d="M350.7 80.4H355.3L353.0 76.8Z" stroke="#1008b8" stroke-width="1.15" fill="none" stroke-linejoin="miter"/><rect x="356.1" y="79.7" width="3.8" height="4.4" stroke="#3fdc3f" stroke-width="1.15" fill="none"/><path d="M355.7 87.0H360.3L358.0 83.4Z" stroke="#3fdc3f" stroke-width="1.15" fill="none" stroke-linejoin="miter"/><rect x="361.4" y="78.6" width="4.0" height="3.8" stroke="#e01010" stroke-width="1.5" fill="none"/><path d="M362.9 84.8H367.5L365.2 81.2Z" stroke="#e01010" stroke-width="1.0" fill="#e01010" stroke-linejoin="miter"/><path d="M370.4 72.5V97.2M367.9 72.5h5.0M367.9 97.2h5.0" stroke="#1008b8" stroke-width="1.2" fill="none"/><path d="M371.3 74.0V95.0M368.8 74.0h5.0M368.8 95.0h5.0" stroke="#1008b8" stroke-width="1.2" fill="none"/><rect x="368.5" y="84.1" width="3.8" height="4.4" stroke="#1008b8" stroke-width="1.15" fill="none"/><path d="M374.8 71.0V81.9M372.6 71.0h4.4M372.6 81.9h4.4" stroke="#3fdc3f" stroke-width="1.1" fill="none"/><rect x="372.9" y="73.2" width="3.8" height="4.4" stroke="#3fdc3f" stroke-width="1.15" fill="none"/><path d="M372.5 81.5H377.1L374.8 77.9Z" stroke="#3fdc3f" stroke-width="1.15" fill="none" stroke-linejoin="miter"/><rect x="378.9" y="78.6" width="4.0" height="3.8" stroke="#e01010" stroke-width="1.5" fill="none"/><path d="M380.4 84.8H385.0L382.7 81.2Z" stroke="#e01010" stroke-width="1.0" fill="#e01010" stroke-linejoin="miter"/><path d="M387.5 63.3V95.0M385.0 63.3h5.0M385.0 95.0h5.0" stroke="#1008b8" stroke-width="1.2" fill="none"/><rect x="385.6" y="71.6" width="3.8" height="4.4" stroke="#1008b8" stroke-width="1.15" fill="none"/><path d="M385.2 85.9H389.8L387.5 82.3Z" stroke="#1008b8" stroke-width="1.15" fill="none" stroke-linejoin="miter"/><path d="M392.3 63.8V81.9M390.1 63.8h4.4M390.1 81.9h4.4" stroke="#3fdc3f" stroke-width="1.1" fill="none"/><rect x="390.4" y="66.6" width="3.8" height="4.4" stroke="#3fdc3f" stroke-width="1.15" fill="none"/><path d="M390.0 78.3H394.6L392.3 74.7Z" stroke="#3fdc3f" stroke-width="1.15" fill="none" stroke-linejoin="miter"/><rect x="396.4" y="76.1" width="4.0" height="3.8" stroke="#e01010" stroke-width="1.5" fill="none"/><path d="M397.9 82.8H402.5L400.2 79.2Z" stroke="#e01010" stroke-width="1.0" fill="#e01010" stroke-linejoin="miter"/><path d="M405.0 36.5V80.2M402.5 36.5h5.0M402.5 80.2h5.0" stroke="#1008b8" stroke-width="1.2" fill="none"/><path d="M405.9 57.9V79.0M403.4 57.9h5.0M403.4 79.0h5.0" stroke="#1008b8" stroke-width="1.2" fill="none"/><rect x="403.1" y="47.9" width="3.8" height="4.4" stroke="#1008b8" stroke-width="1.15" fill="none"/><path d="M402.7 70.5H407.3L405.0 66.9Z" stroke="#1008b8" stroke-width="1.15" fill="none" stroke-linejoin="miter"/><path d="M409.5 58.0V72.0M407.3 58.0h4.4M407.3 72.0h4.4" stroke="#3fdc3f" stroke-width="1.1" fill="none"/><rect x="407.6" y="59.6" width="3.8" height="4.4" stroke="#3fdc3f" stroke-width="1.15" fill="none"/><path d="M407.2 70.8H411.8L409.5 67.2Z" stroke="#3fdc3f" stroke-width="1.15" fill="none" stroke-linejoin="miter"/><rect x="413.5" y="69.1" width="4.0" height="3.8" stroke="#e01010" stroke-width="1.5" fill="none"/><path d="M415.0 75.3H419.6L417.3 71.7Z" stroke="#e01010" stroke-width="1.0" fill="#e01010" stroke-linejoin="miter"/><path d="M423.0 26.5V53.5M420.5 26.5h5.0M420.5 53.5h5.0" stroke="#1008b8" stroke-width="1.2" fill="none"/><path d="M420.7 41.5H425.3L423.0 37.9Z" stroke="#1008b8" stroke-width="1.15" fill="none" stroke-linejoin="miter"/><path d="M422.3 88.2V112.5M419.8 88.2h5.0M419.8 112.5h5.0" stroke="#1008b8" stroke-width="1.2" fill="none"/><rect x="420.4" y="97.6" width="3.8" height="4.4" stroke="#1008b8" stroke-width="1.15" fill="none"/><path d="M426.9 67.4V90.5M424.7 67.4h4.4M424.7 90.5h4.4" stroke="#3fdc3f" stroke-width="1.1" fill="none"/><rect x="425.0" y="71.0" width="3.8" height="4.4" stroke="#3fdc3f" stroke-width="1.15" fill="none"/><path d="M424.6 86.5H429.2L426.9 82.9Z" stroke="#3fdc3f" stroke-width="1.15" fill="none" stroke-linejoin="miter"/><rect x="431.2" y="41.6" width="4.0" height="3.8" stroke="#e01010" stroke-width="1.5" fill="none"/><path d="M432.7 49.3H437.3L435.0 45.7Z" stroke="#e01010" stroke-width="1.0" fill="#e01010" stroke-linejoin="miter"/><path d="M440.8 5.0V28.0M438.3 5.0h5.0M438.3 28.0h5.0" stroke="#1008b8" stroke-width="1.2" fill="none"/><path d="M438.5 16.8H443.1L440.8 13.2Z" stroke="#1008b8" stroke-width="1.15" fill="none" stroke-linejoin="miter"/><path d="M443.6 47.7V62.8M441.4 47.7h4.4M441.4 62.8h4.4" stroke="#3fdc3f" stroke-width="1.1" fill="none"/><rect x="441.7" y="53.6" width="3.8" height="4.4" stroke="#3fdc3f" stroke-width="1.15" fill="none"/><path d="M441.3 61.1H445.9L443.6 57.5Z" stroke="#3fdc3f" stroke-width="1.15" fill="none" stroke-linejoin="miter"/><rect x="447.5" y="74.1" width="4.0" height="3.8" stroke="#e01010" stroke-width="1.5" fill="none"/><path d="M449.0 81.8H453.6L451.3 78.2Z" stroke="#e01010" stroke-width="1.0" fill="#e01010" stroke-linejoin="miter"/></g>
<text x="76.7" y="36.5" font-size="11.5" text-anchor="start" fill="#1c1c96" textLength="30.3" lengthAdjust="spacingAndGlyphs">8920</text>
<text x="113.2" y="36.5" font-size="11.5" text-anchor="start" fill="#1c1c96" textLength="34.4" lengthAdjust="spacingAndGlyphs">(blue)</text>
<text x="191.3" y="36.5" font-size="11.5" text-anchor="start" fill="#3fdc3f" textLength="30.2" lengthAdjust="spacingAndGlyphs">5577</text>
<text x="227.7" y="36.5" font-size="11.5" text-anchor="start" fill="#3fdc3f" textLength="41.8" lengthAdjust="spacingAndGlyphs">(green)</text>
<text x="353.9" y="36.6" font-size="11.5" text-anchor="start" fill="#cc2020" textLength="29.1" lengthAdjust="spacingAndGlyphs">6300</text>
<text x="389.2" y="36.6" font-size="11.5" text-anchor="start" fill="#cc2020" textLength="30.3" lengthAdjust="spacingAndGlyphs">(red)</text>
<g clip-path="url(#c3)"><path d="M61.5 250.8V276.8M59.3 250.8h4.4M59.3 276.8h4.4" stroke="#3fdc3f" stroke-width="1.1" fill="none"/><path d="M59.2 262.8H63.8L61.5 259.2Z" stroke="#3fdc3f" stroke-width="1.15" fill="none" stroke-linejoin="miter"/><rect x="59.6" y="265.6" width="3.8" height="4.4" stroke="#3fdc3f" stroke-width="1.15" fill="none"/><rect x="63.8" y="259.6" width="4.0" height="3.8" stroke="#e01010" stroke-width="1.5" fill="none"/><rect x="65.6" y="263.1" width="4.0" height="3.8" stroke="#e01010" stroke-width="1.5" fill="none"/><path d="M73.5 221.5V285.9M71.0 221.5h5.0M71.0 285.9h5.0" stroke="#1008b8" stroke-width="1.2" fill="none"/><path d="M74.4 240.0V340.0M71.9 240.0h5.0M71.9 340.0h5.0" stroke="#1008b8" stroke-width="1.2" fill="none"/><rect x="71.6" y="252.0" width="3.8" height="4.4" stroke="#1008b8" stroke-width="1.15" fill="none"/><path d="M71.2 299.4H75.8L73.5 295.8Z" stroke="#1008b8" stroke-width="1.15" fill="none" stroke-linejoin="miter"/><path d="M78.0 260.6V281.4M75.8 260.6h4.4M75.8 281.4h4.4" stroke="#3fdc3f" stroke-width="1.1" fill="none"/><rect x="76.1" y="270.1" width="3.8" height="4.4" stroke="#3fdc3f" stroke-width="1.15" fill="none"/><path d="M75.7 275.8H80.3L78.0 272.2Z" stroke="#3fdc3f" stroke-width="1.15" fill="none" stroke-linejoin="miter"/><rect x="81.2" y="260.9" width="4.0" height="3.8" stroke="#e01010" stroke-width="1.5" fill="none"/><path d="M82.7 261.8H87.3L85.0 258.2Z" stroke="#e01010" stroke-width="1.0" fill="#e01010" stroke-linejoin="miter"/><path d="M90.7 236.2V315.3M88.2 236.2h5.0M88.2 315.3h5.0" stroke="#1008b8" stroke-width="1.2" fill="none"/><path d="M91.6 240.7V310.7M89.1 240.7h5.0M89.1 310.7h5.0" stroke="#1008b8" stroke-width="1.2" fill="none"/><rect x="88.8" y="273.5" width="3.8" height="4.4" stroke="#1008b8" stroke-width="1.15" fill="none"/><path d="M88.4 279.8H93.0L90.7 276.2Z" stroke="#1008b8" stroke-width="1.15" fill="none" stroke-linejoin="miter"/><path d="M95.2 247.5V271.2M93.0 247.5h4.4M93.0 271.2h4.4" stroke="#3fdc3f" stroke-width="1.1" fill="none"/><rect x="93.3" y="252.0" width="3.8" height="4.4" stroke="#3fdc3f" stroke-width="1.15" fill="none"/><path d="M92.9 263.9H97.5L95.2 260.3Z" stroke="#3fdc3f" stroke-width="1.15" fill="none" stroke-linejoin="miter"/><rect x="98.2" y="253.9" width="4.0" height="3.8" stroke="#e01010" stroke-width="1.5" fill="none"/><rect x="100.0" y="252.1" width="4.0" height="3.8" stroke="#e01010" stroke-width="1.5" fill="none"/><path d="M108.1 258.3V308.0M105.6 258.3h5.0M105.6 308.0h5.0" stroke="#1008b8" stroke-width="1.2" fill="none"/><rect x="106.2" y="279.6" width="3.8" height="4.4" stroke="#1008b8" stroke-width="1.15" fill="none"/><path d="M105.8 285.8H110.4L108.1 282.2Z" stroke="#1008b8" stroke-width="1.15" fill="none" stroke-linejoin="miter"/><path d="M112.6 255.4V276.8M110.4 255.4h4.4M110.4 276.8h4.4" stroke="#3fdc3f" stroke-width="1.1" fill="none"/><path d="M110.3 263.9H114.9L112.6 260.3Z" stroke="#3fdc3f" stroke-width="1.15" fill="none" stroke-linejoin="miter"/><rect x="110.7" y="267.8" width="3.8" height="4.4" stroke="#3fdc3f" stroke-width="1.15" fill="none"/><rect x="115.8" y="239.9" width="4.0" height="3.8" stroke="#e01010" stroke-width="1.5" fill="none"/><path d="M117.3 241.8H121.9L119.6 238.2Z" stroke="#e01010" stroke-width="1.0" fill="#e01010" stroke-linejoin="miter"/><path d="M126.2 250.2V296.0M123.7 250.2h5.0M123.7 296.0h5.0" stroke="#1008b8" stroke-width="1.2" fill="none"/><rect x="124.3" y="268.3" width="3.8" height="4.4" stroke="#1008b8" stroke-width="1.15" fill="none"/><path d="M123.9 277.5H128.5L126.2 273.9Z" stroke="#1008b8" stroke-width="1.15" fill="none" stroke-linejoin="miter"/><path d="M130.0 246.3V265.5M127.8 246.3h4.4M127.8 265.5h4.4" stroke="#3fdc3f" stroke-width="1.1" fill="none"/><rect x="128.1" y="249.8" width="3.8" height="4.4" stroke="#3fdc3f" stroke-width="1.15" fill="none"/><path d="M127.7 259.4H132.3L130.0 255.8Z" stroke="#3fdc3f" stroke-width="1.15" fill="none" stroke-linejoin="miter"/><rect x="132.5" y="229.7" width="4.0" height="3.8" stroke="#e01010" stroke-width="1.5" fill="none"/><rect x="134.3" y="228.1" width="4.0" height="3.8" stroke="#e01010" stroke-width="1.5" fill="none"/><path d="M143.1 244.7V276.4M140.6 244.7h5.0M140.6 276.4h5.0" stroke="#1008b8" stroke-width="1.2" fill="none"/><rect x="141.2" y="259.9" width="3.8" height="4.4" stroke="#1008b8" stroke-width="1.15" fill="none"/><path d="M147.6 250.8V274.6M145.4 250.8h4.4M145.4 274.6h4.4" stroke="#3fdc3f" stroke-width="1.1" fill="none"/><rect x="145.7" y="256.1" width="3.8" height="4.4" stroke="#3fdc3f" stroke-width="1.15" fill="none"/><path d="M145.3 269.1H149.9L147.6 265.5Z" stroke="#3fdc3f" stroke-width="1.15" fill="none" stroke-linejoin="miter"/><rect x="150.6" y="238.8" width="4.0" height="3.8" stroke="#e01010" stroke-width="1.5" fill="none"/><path d="M152.1 240.8H156.7L154.4 237.2Z" stroke="#e01010" stroke-width="1.0" fill="#e01010" stroke-linejoin="miter"/><path d="M160.5 254.2V290.8M158.0 254.2h5.0M158.0 290.8h5.0" stroke="#1008b8" stroke-width="1.2" fill="none"/><rect x="158.6" y="270.1" width="3.8" height="4.4" stroke="#1008b8" stroke-width="1.15" fill="none"/><path d="M158.2 279.8H162.8L160.5 276.2Z" stroke="#1008b8" stroke-width="1.15" fill="none" stroke-linejoin="miter"/><path d="M165.0 252.4V273.4M162.8 252.4h4.4M162.8 273.4h4.4" stroke="#3fdc3f" stroke-width="1.1" fill="none"/><path d="M162.7 262.8H167.3L165.0 259.2Z" stroke="#3fdc3f" stroke-width="1.15" fill="none" stroke-linejoin="miter"/><rect x="163.1" y="266.7" width="3.8" height="4.4" stroke="#3fdc3f" stroke-width="1.15" fill="none"/><rect x="167.5" y="241.1" width="4.0" height="3.8" stroke="#e01010" stroke-width="1.5" fill="none"/><path d="M169.0 242.8H173.6L171.3 239.2Z" stroke="#e01010" stroke-width="1.0" fill="#e01010" stroke-linejoin="miter"/><path d="M177.5 253.8V283.2M175.0 253.8h5.0M175.0 283.2h5.0" stroke="#1008b8" stroke-width="1.2" fill="none"/><rect x="175.6" y="266.0" width="3.8" height="4.4" stroke="#1008b8" stroke-width="1.15" fill="none"/><path d="M182.4 237.3V271.2M180.2 237.3h4.4M180.2 271.2h4.4" stroke="#3fdc3f" stroke-width="1.1" fill="none"/><path d="M180.1 248.1H184.7L182.4 244.5Z" stroke="#3fdc3f" stroke-width="1.15" fill="none" stroke-linejoin="miter"/><rect x="180.5" y="261.1" width="3.8" height="4.4" stroke="#3fdc3f" stroke-width="1.15" fill="none"/><rect x="185.0" y="246.7" width="4.0" height="3.8" stroke="#e01010" stroke-width="1.5" fill="none"/><path d="M186.5 248.8H191.1L188.8 245.2Z" stroke="#e01010" stroke-width="1.0" fill="#e01010" stroke-linejoin="miter"/><path d="M195.1 251.5V282.5M192.6 251.5h5.0M192.6 282.5h5.0" stroke="#1008b8" stroke-width="1.2" fill="none"/><rect x="193.2" y="265.6" width="3.8" height="4.4" stroke="#1008b8" stroke-width="1.15" fill="none"/><path d="M192.8 263.9H197.4L195.1 260.3Z" stroke="#1008b8" stroke-width="1.15" fill="none" stroke-linejoin="miter"/><path d="M200.0 237.3V254.2M197.8 237.3h4.4M197.8 254.2h4.4" stroke="#3fdc3f" stroke-width="1.1" fill="none"/><path d="M197.7 248.1H202.3L200.0 244.5Z" stroke="#3fdc3f" stroke-width="1.15" fill="none" stroke-linejoin="miter"/><rect x="203.2" y="230.3" width="4.0" height="3.8" stroke="#e01010" stroke-width="1.5" fill="none"/><path d="M204.7 232.8H209.3L207.0 229.2Z" stroke="#e01010" stroke-width="1.0" fill="#e01010" stroke-linejoin="miter"/><path d="M212.9 246.3V271.2M210.4 246.3h5.0M210.4 271.2h5.0" stroke="#1008b8" stroke-width="1.2" fill="none"/><rect x="211.0" y="257.7" width="3.8" height="4.4" stroke="#1008b8" stroke-width="1.15" fill="none"/><path d="M216.8 242.5V261.5M214.6 242.5h4.4M214.6 261.5h4.4" stroke="#3fdc3f" stroke-width="1.1" fill="none"/><path d="M214.5 250.4H219.1L216.8 246.8Z" stroke="#3fdc3f" stroke-width="1.15" fill="none" stroke-linejoin="miter"/><rect x="214.9" y="252.0" width="3.8" height="4.4" stroke="#3fdc3f" stroke-width="1.15" fill="none"/><rect x="219.3" y="250.1" width="4.0" height="3.8" stroke="#e01010" stroke-width="1.5" fill="none"/><path d="M220.8 251.8H225.4L223.1 248.2Z" stroke="#e01010" stroke-width="1.0" fill="#e01010" stroke-linejoin="miter"/><path d="M229.9 257.6V285.4M227.4 257.6h5.0M227.4 285.4h5.0" stroke="#1008b8" stroke-width="1.2" fill="none"/><rect x="228.0" y="270.6" width="3.8" height="4.4" stroke="#1008b8" stroke-width="1.15" fill="none"/><path d="M233.9 260.6V283.2M231.7 260.6h4.4M231.7 283.2h4.4" stroke="#3fdc3f" stroke-width="1.1" fill="none"/><rect x="232.0" y="272.4" width="3.8" height="4.4" stroke="#3fdc3f" stroke-width="1.15" fill="none"/><rect x="236.9" y="263.6" width="4.0" height="3.8" stroke="#e01010" stroke-width="1.5" fill="none"/><path d="M238.4 263.8H243.0L240.7 260.2Z" stroke="#e01010" stroke-width="1.0" fill="#e01010" stroke-linejoin="miter"/><path d="M246.8 267.8V299.0M244.3 267.8h5.0M244.3 299.0h5.0" stroke="#1008b8" stroke-width="1.2" fill="none"/><rect x="244.9" y="281.9" width="3.8" height="4.4" stroke="#1008b8" stroke-width="1.15" fill="none"/><path d="M252.0 247.0V266.7M249.8 247.0h4.4M249.8 266.7h4.4" stroke="#3fdc3f" stroke-width="1.1" fill="none"/><path d="M249.7 257.2H254.3L252.0 253.6Z" stroke="#3fdc3f" stroke-width="1.15" fill="none" stroke-linejoin="miter"/><rect x="250.1" y="257.0" width="3.8" height="4.4" stroke="#3fdc3f" stroke-width="1.15" fill="none"/><rect x="255.0" y="259.1" width="4.0" height="3.8" stroke="#e01010" stroke-width="1.5" fill="none"/><path d="M256.5 260.8H261.1L258.8 257.2Z" stroke="#e01010" stroke-width="1.0" fill="#e01010" stroke-linejoin="miter"/><path d="M264.9 246.3V280.9M262.4 246.3h5.0M262.4 280.9h5.0" stroke="#1008b8" stroke-width="1.2" fill="none"/><rect x="263.0" y="257.7" width="3.8" height="4.4" stroke="#1008b8" stroke-width="1.15" fill="none"/><path d="M262.6 272.3H267.2L264.9 268.7Z" stroke="#1008b8" stroke-width="1.15" fill="none" stroke-linejoin="miter"/><rect x="266.8" y="249.8" width="3.8" height="4.4" stroke="#3fdc3f" stroke-width="1.15" fill="none"/><path d="M266.4 274.1H271.0L268.7 270.5Z" stroke="#3fdc3f" stroke-width="1.15" fill="none" stroke-linejoin="miter"/><rect x="271.9" y="257.3" width="4.0" height="3.8" stroke="#e01010" stroke-width="1.5" fill="none"/><path d="M281.8 248.6V280.9M279.3 248.6h5.0M279.3 280.9h5.0" stroke="#1008b8" stroke-width="1.2" fill="none"/><rect x="279.9" y="261.8" width="3.8" height="4.4" stroke="#1008b8" stroke-width="1.15" fill="none"/><rect x="284.4" y="269.7" width="3.8" height="4.4" stroke="#3fdc3f" stroke-width="1.15" fill="none"/><path d="M284.0 267.3H288.6L286.3 263.7Z" stroke="#3fdc3f" stroke-width="1.15" fill="none" stroke-linejoin="miter"/><rect x="289.3" y="259.6" width="4.0" height="3.8" stroke="#e01010" stroke-width="1.5" fill="none"/><rect x="291.1" y="260.1" width="4.0" height="3.8" stroke="#e01010" stroke-width="1.5" fill="none"/><path d="M299.2 247.0V278.0M296.7 247.0h5.0M296.7 278.0h5.0" stroke="#1008b8" stroke-width="1.2" fill="none"/><rect x="297.3" y="259.3" width="3.8" height="4.4" stroke="#1008b8" stroke-width="1.15" fill="none"/><path d="M303.7 265.5V274.6M301.5 265.5h4.4M301.5 274.6h4.4" stroke="#3fdc3f" stroke-width="1.1" fill="none"/><rect x="301.8" y="266.7" width="3.8" height="4.4" stroke="#3fdc3f" stroke-width="1.15" fill="none"/><path d="M306.6 258.8H311.2L308.9 255.2Z" stroke="#e01010" stroke-width="1.0" fill="#e01010" stroke-linejoin="miter"/><rect x="308.7" y="263.6" width="4.0" height="3.8" stroke="#e01010" stroke-width="1.5" fill="none"/><path d="M316.6 253.8V285.4M314.1 253.8h5.0M314.1 285.4h5.0" stroke="#1008b8" stroke-width="1.2" fill="none"/><rect x="314.7" y="262.2" width="3.8" height="4.4" stroke="#1008b8" stroke-width="1.15" fill="none"/><path d="M314.3 276.4H318.9L316.6 272.8Z" stroke="#1008b8" stroke-width="1.15" fill="none" stroke-linejoin="miter"/><path d="M321.1 265.0V274.6M318.9 265.0h4.4M318.9 274.6h4.4" stroke="#3fdc3f" stroke-width="1.1" fill="none"/><rect x="319.2" y="267.8" width="3.8" height="4.4" stroke="#3fdc3f" stroke-width="1.15" fill="none"/><rect x="324.3" y="258.7" width="4.0" height="3.8" stroke="#e01010" stroke-width="1.5" fill="none"/><path d="M333.8 265.5V284.1M331.3 265.5h5.0M331.3 284.1h5.0" stroke="#1008b8" stroke-width="1.2" fill="none"/><rect x="331.9" y="271.9" width="3.8" height="4.4" stroke="#1008b8" stroke-width="1.15" fill="none"/><path d="M336.0 265.1H340.6L338.3 261.5Z" stroke="#3fdc3f" stroke-width="1.15" fill="none" stroke-linejoin="miter"/><rect x="336.4" y="266.7" width="3.8" height="4.4" stroke="#3fdc3f" stroke-width="1.15" fill="none"/><rect x="341.7" y="264.8" width="4.0" height="3.8" stroke="#e01010" stroke-width="1.5" fill="none"/><path d="M351.9 255.4V275.7M349.4 255.4h5.0M349.4 275.7h5.0" stroke="#1008b8" stroke-width="1.2" fill="none"/><rect x="350.0" y="261.1" width="3.8" height="4.4" stroke="#1008b8" stroke-width="1.15" fill="none"/><path d="M353.5 275.8H358.1L355.8 272.2Z" stroke="#3fdc3f" stroke-width="1.15" fill="none" stroke-linejoin="miter"/><rect x="358.5" y="266.6" width="4.0" height="3.8" stroke="#e01010" stroke-width="1.5" fill="none"/><path d="M360.0 267.8H364.6L362.3 264.2Z" stroke="#e01010" stroke-width="1.0" fill="#e01010" stroke-linejoin="miter"/><path d="M369.0 263.7V288.1M366.5 263.7h5.0M366.5 288.1h5.0" stroke="#1008b8" stroke-width="1.2" fill="none"/><rect x="367.1" y="271.9" width="3.8" height="4.4" stroke="#1008b8" stroke-width="1.15" fill="none"/><path d="M366.7 279.8H371.3L369.0 276.2Z" stroke="#1008b8" stroke-width="1.15" fill="none" stroke-linejoin="miter"/><path d="M372.6 265.5V276.8M370.4 265.5h4.4M370.4 276.8h4.4" stroke="#3fdc3f" stroke-width="1.1" fill="none"/><rect x="370.7" y="270.1" width="3.8" height="4.4" stroke="#3fdc3f" stroke-width="1.15" fill="none"/><rect x="376.0" y="265.4" width="4.0" height="3.8" stroke="#e01010" stroke-width="1.5" fill="none"/><rect x="377.8" y="264.1" width="4.0" height="3.8" stroke="#e01010" stroke-width="1.5" fill="none"/><path d="M386.2 252.4V283.2M383.7 252.4h5.0M383.7 283.2h5.0" stroke="#1008b8" stroke-width="1.2" fill="none"/><rect x="384.3" y="270.1" width="3.8" height="4.4" stroke="#1008b8" stroke-width="1.15" fill="none"/><path d="M383.9 265.1H388.5L386.2 261.5Z" stroke="#1008b8" stroke-width="1.15" fill="none" stroke-linejoin="miter"/><path d="M390.7 254.2V273.4M388.5 254.2h4.4M388.5 273.4h4.4" stroke="#3fdc3f" stroke-width="1.1" fill="none"/><rect x="388.8" y="265.1" width="3.8" height="4.4" stroke="#3fdc3f" stroke-width="1.15" fill="none"/><path d="M388.4 262.4H393.0L390.7 258.8Z" stroke="#3fdc3f" stroke-width="1.15" fill="none" stroke-linejoin="miter"/><rect x="393.7" y="271.5" width="4.0" height="3.8" stroke="#e01010" stroke-width="1.5" fill="none"/><path d="M395.2 272.8H399.8L397.5 269.2Z" stroke="#e01010" stroke-width="1.0" fill="#e01010" stroke-linejoin="miter"/><path d="M403.6 230.5V276.4M401.1 230.5h5.0M401.1 276.4h5.0" stroke="#1008b8" stroke-width="1.2" fill="none"/><rect x="401.7" y="259.3" width="3.8" height="4.4" stroke="#1008b8" stroke-width="1.15" fill="none"/><path d="M401.3 246.5H405.9L403.6 242.9Z" stroke="#1008b8" stroke-width="1.15" fill="none" stroke-linejoin="miter"/><path d="M408.1 248.6V262.1M405.9 248.6h4.4M405.9 262.1h4.4" stroke="#3fdc3f" stroke-width="1.1" fill="none"/><rect x="406.2" y="256.1" width="3.8" height="4.4" stroke="#3fdc3f" stroke-width="1.15" fill="none"/><path d="M405.8 254.9H410.4L408.1 251.3Z" stroke="#3fdc3f" stroke-width="1.15" fill="none" stroke-linejoin="miter"/><rect x="411.3" y="272.7" width="4.0" height="3.8" stroke="#e01010" stroke-width="1.5" fill="none"/><rect x="413.1" y="272.1" width="4.0" height="3.8" stroke="#e01010" stroke-width="1.5" fill="none"/><path d="M420.3 223.5V244.2M417.8 223.5h5.0M417.8 244.2h5.0" stroke="#1008b8" stroke-width="1.2" fill="none"/><rect x="418.4" y="231.5" width="3.8" height="4.4" stroke="#1008b8" stroke-width="1.15" fill="none"/><path d="M420.9 285.7V302.1M418.4 285.7h5.0M418.4 302.1h5.0" stroke="#1008b8" stroke-width="1.2" fill="none"/><path d="M418.6 296.1H423.2L420.9 292.5Z" stroke="#1008b8" stroke-width="1.15" fill="none" stroke-linejoin="miter"/><path d="M425.3 265.0V287.9M423.1 265.0h4.4M423.1 287.9h4.4" stroke="#3fdc3f" stroke-width="1.1" fill="none"/><rect x="423.4" y="278.1" width="3.8" height="4.4" stroke="#3fdc3f" stroke-width="1.15" fill="none"/><path d="M423.0 274.4H427.6L425.3 270.8Z" stroke="#3fdc3f" stroke-width="1.15" fill="none" stroke-linejoin="miter"/><rect x="427.4" y="271.4" width="4.0" height="3.8" stroke="#e01010" stroke-width="1.5" fill="none"/><rect x="429.7" y="278.0" width="4.0" height="3.8" stroke="#e01010" stroke-width="1.5" fill="none"/><path d="M437.7 241.2V272.5M435.2 241.2h5.0M435.2 272.5h5.0" stroke="#1008b8" stroke-width="1.2" fill="none"/><rect x="435.8" y="254.2" width="3.8" height="4.4" stroke="#1008b8" stroke-width="1.15" fill="none"/><path d="M443.2 284.5V297.3M441.0 284.5h4.4M441.0 297.3h4.4" stroke="#3fdc3f" stroke-width="1.1" fill="none"/><rect x="441.3" y="285.5" width="3.8" height="4.4" stroke="#3fdc3f" stroke-width="1.15" fill="none"/><path d="M440.9 291.8H445.5L443.2 288.2Z" stroke="#3fdc3f" stroke-width="1.15" fill="none" stroke-linejoin="miter"/><path d="M445.7 277.4H450.3L448.0 273.8Z" stroke="#e01010" stroke-width="1.0" fill="#e01010" stroke-linejoin="miter"/><rect x="447.8" y="278.5" width="4.0" height="3.8" stroke="#e01010" stroke-width="1.5" fill="none"/></g>
<g clip-path="url(#c5)"><path d="M61.5 415.0V430.0M59.3 415.0h4.4M59.3 430.0h4.4" stroke="#3fdc3f" stroke-width="1.1" fill="none"/><path d="M59.2 423.8H63.8L61.5 420.2Z" stroke="#3fdc3f" stroke-width="1.15" fill="none" stroke-linejoin="miter"/><path d="M61.3 440.4H65.9L63.6 436.8Z" stroke="#e01010" stroke-width="1.0" fill="#e01010" stroke-linejoin="miter"/><path d="M72.0 397.2V450.3M69.5 397.2h5.0M69.5 450.3h5.0" stroke="#1008b8" stroke-width="1.2" fill="none"/><path d="M69.7 426.8H74.3L72.0 423.2Z" stroke="#1008b8" stroke-width="1.15" fill="none" stroke-linejoin="miter"/><path d="M76.5 430.4V445.3M74.3 430.4h4.4M74.3 445.3h4.4" stroke="#3fdc3f" stroke-width="1.1" fill="none"/><path d="M74.2 440.4H78.8L76.5 436.8Z" stroke="#3fdc3f" stroke-width="1.15" fill="none" stroke-linejoin="miter"/><path d="M79.4 425.0H84.0L81.7 421.4Z" stroke="#e01010" stroke-width="1.0" fill="#e01010" stroke-linejoin="miter"/><path d="M89.4 459.4V510.0M86.9 459.4h5.0M86.9 510.0h5.0" stroke="#1008b8" stroke-width="1.2" fill="none"/><path d="M87.1 481.9H91.7L89.4 478.3Z" stroke="#1008b8" stroke-width="1.15" fill="none" stroke-linejoin="miter"/><path d="M94.5 430.4V442.4M92.3 430.4h4.4M92.3 442.4h4.4" stroke="#3fdc3f" stroke-width="1.1" fill="none"/><path d="M92.2 439.0H96.8L94.5 435.4Z" stroke="#3fdc3f" stroke-width="1.15" fill="none" stroke-linejoin="miter"/><path d="M96.1 431.3H100.7L98.4 427.7Z" stroke="#e01010" stroke-width="1.0" fill="#e01010" stroke-linejoin="miter"/><path d="M107.4 427.3V478.6M104.9 427.3h5.0M104.9 478.6h5.0" stroke="#1008b8" stroke-width="1.2" fill="none"/><path d="M105.1 456.2H109.7L107.4 452.6Z" stroke="#1008b8" stroke-width="1.15" fill="none" stroke-linejoin="miter"/><path d="M111.5 427.3V437.2M109.3 427.3h4.4M109.3 437.2h4.4" stroke="#3fdc3f" stroke-width="1.1" fill="none"/><path d="M109.2 434.5H113.8L111.5 430.9Z" stroke="#3fdc3f" stroke-width="1.15" fill="none" stroke-linejoin="miter"/><path d="M115.6 446.0V452.0M113.4 446.0h4.4M113.4 452.0h4.4" stroke="#e01010" stroke-width="1.1" fill="none"/><path d="M113.3 451.0H117.9L115.6 447.4Z" stroke="#e01010" stroke-width="1.0" fill="#e01010" stroke-linejoin="miter"/><path d="M124.6 443.1V477.4M122.1 443.1h5.0M122.1 477.4h5.0" stroke="#1008b8" stroke-width="1.2" fill="none"/><path d="M122.3 463.0H126.9L124.6 459.4Z" stroke="#1008b8" stroke-width="1.15" fill="none" stroke-linejoin="miter"/><path d="M128.4 434.5V442.4M126.2 434.5h4.4M126.2 442.4h4.4" stroke="#3fdc3f" stroke-width="1.1" fill="none"/><path d="M126.1 440.4H130.7L128.4 436.8Z" stroke="#3fdc3f" stroke-width="1.15" fill="none" stroke-linejoin="miter"/><path d="M130.9 447.6H135.5L133.2 444.0Z" stroke="#e01010" stroke-width="1.0" fill="#e01010" stroke-linejoin="miter"/><path d="M141.8 425.9V453.0M139.3 425.9h5.0M139.3 453.0h5.0" stroke="#1008b8" stroke-width="1.2" fill="none"/><path d="M139.5 442.6H144.1L141.8 439.0Z" stroke="#1008b8" stroke-width="1.15" fill="none" stroke-linejoin="miter"/><path d="M146.3 427.3V440.8M144.1 427.3h4.4M144.1 440.8h4.4" stroke="#3fdc3f" stroke-width="1.1" fill="none"/><path d="M144.0 436.8H148.6L146.3 433.2Z" stroke="#3fdc3f" stroke-width="1.15" fill="none" stroke-linejoin="miter"/><path d="M150.8 446.2V453.0M148.6 446.2h4.4M148.6 453.0h4.4" stroke="#e01010" stroke-width="1.1" fill="none"/><path d="M148.5 452.1H153.1L150.8 448.5Z" stroke="#e01010" stroke-width="1.0" fill="#e01010" stroke-linejoin="miter"/><path d="M158.9 422.7V449.2M156.4 422.7h5.0M156.4 449.2h5.0" stroke="#1008b8" stroke-width="1.2" fill="none"/><path d="M156.6 438.6H161.2L158.9 435.0Z" stroke="#1008b8" stroke-width="1.15" fill="none" stroke-linejoin="miter"/><path d="M163.4 432.2V445.8M161.2 432.2h4.4M161.2 445.8h4.4" stroke="#3fdc3f" stroke-width="1.1" fill="none"/><path d="M161.1 441.3H165.7L163.4 437.7Z" stroke="#3fdc3f" stroke-width="1.15" fill="none" stroke-linejoin="miter"/><path d="M165.7 427.7H170.3L168.0 424.1Z" stroke="#e01010" stroke-width="1.0" fill="#e01010" stroke-linejoin="miter"/><path d="M176.3 430.4V456.0M173.8 430.4h5.0M173.8 456.0h5.0" stroke="#1008b8" stroke-width="1.2" fill="none"/><path d="M174.0 445.8H178.6L176.3 442.2Z" stroke="#1008b8" stroke-width="1.15" fill="none" stroke-linejoin="miter"/><path d="M181.5 435.6V450.3M179.3 435.6h4.4M179.3 450.3h4.4" stroke="#3fdc3f" stroke-width="1.1" fill="none"/><path d="M179.2 445.3H183.8L181.5 441.7Z" stroke="#3fdc3f" stroke-width="1.15" fill="none" stroke-linejoin="miter"/><path d="M185.4 431.1V438.6M183.2 431.1h4.4M183.2 438.6h4.4" stroke="#e01010" stroke-width="1.1" fill="none"/><path d="M183.1 437.4H187.7L185.4 433.8Z" stroke="#e01010" stroke-width="1.0" fill="#e01010" stroke-linejoin="miter"/><path d="M194.4 435.6V453.0M191.9 435.6h5.0M191.9 453.0h5.0" stroke="#1008b8" stroke-width="1.2" fill="none"/><path d="M192.1 447.1H196.7L194.4 443.5Z" stroke="#1008b8" stroke-width="1.15" fill="none" stroke-linejoin="miter"/><path d="M198.9 428.2V440.1M196.7 428.2h4.4M196.7 440.1h4.4" stroke="#3fdc3f" stroke-width="1.1" fill="none"/><path d="M196.6 435.8H201.2L198.9 432.2Z" stroke="#3fdc3f" stroke-width="1.15" fill="none" stroke-linejoin="miter"/><path d="M202.8 431.0V438.0M200.6 431.0h4.4M200.6 438.0h4.4" stroke="#e01010" stroke-width="1.1" fill="none"/><path d="M200.5 436.3H205.1L202.8 432.7Z" stroke="#e01010" stroke-width="1.0" fill="#e01010" stroke-linejoin="miter"/><path d="M211.3 425.5V443.5M208.8 425.5h5.0M208.8 443.5h5.0" stroke="#1008b8" stroke-width="1.2" fill="none"/><path d="M209.0 436.3H213.6L211.3 432.7Z" stroke="#1008b8" stroke-width="1.15" fill="none" stroke-linejoin="miter"/><path d="M215.2 424.3V440.1M213.0 424.3h4.4M213.0 440.1h4.4" stroke="#3fdc3f" stroke-width="1.1" fill="none"/><path d="M212.9 434.0H217.5L215.2 430.4Z" stroke="#3fdc3f" stroke-width="1.15" fill="none" stroke-linejoin="miter"/><path d="M220.4 432.7V441.3M218.2 432.7h4.4M218.2 441.3h4.4" stroke="#e01010" stroke-width="1.1" fill="none"/><path d="M218.1 439.0H222.7L220.4 435.4Z" stroke="#e01010" stroke-width="1.0" fill="#e01010" stroke-linejoin="miter"/><path d="M228.0 438.6V458.2M225.5 438.6h5.0M225.5 458.2h5.0" stroke="#1008b8" stroke-width="1.2" fill="none"/><path d="M225.7 451.0H230.3L228.0 447.4Z" stroke="#1008b8" stroke-width="1.15" fill="none" stroke-linejoin="miter"/><path d="M233.2 429.5V444.7M231.0 429.5h4.4M231.0 444.7h4.4" stroke="#3fdc3f" stroke-width="1.1" fill="none"/><path d="M230.9 439.7H235.5L233.2 436.1Z" stroke="#3fdc3f" stroke-width="1.15" fill="none" stroke-linejoin="miter"/><path d="M237.8 437.9V450.3M235.6 437.9h4.4M235.6 450.3h4.4" stroke="#e01010" stroke-width="1.1" fill="none"/><path d="M235.5 446.5H240.1L237.8 442.9Z" stroke="#e01010" stroke-width="1.0" fill="#e01010" stroke-linejoin="miter"/><path d="M246.1 424.3V442.4M243.6 424.3h5.0M243.6 442.4h5.0" stroke="#1008b8" stroke-width="1.2" fill="none"/><path d="M243.8 435.2H248.4L246.1 431.6Z" stroke="#1008b8" stroke-width="1.15" fill="none" stroke-linejoin="miter"/><path d="M250.2 429.5V440.1M248.0 429.5h4.4M248.0 440.1h4.4" stroke="#3fdc3f" stroke-width="1.1" fill="none"/><path d="M247.9 438.1H252.5L250.2 434.5Z" stroke="#3fdc3f" stroke-width="1.15" fill="none" stroke-linejoin="miter"/><path d="M254.7 425.5V433.4M252.5 425.5h4.4M252.5 433.4h4.4" stroke="#e01010" stroke-width="1.1" fill="none"/><path d="M252.4 431.3H257.0L254.7 427.7Z" stroke="#e01010" stroke-width="1.0" fill="#e01010" stroke-linejoin="miter"/><path d="M263.3 429.5V448.0M260.8 429.5h5.0M260.8 448.0h5.0" stroke="#1008b8" stroke-width="1.2" fill="none"/><path d="M261.0 441.3H265.6L263.3 437.7Z" stroke="#1008b8" stroke-width="1.15" fill="none" stroke-linejoin="miter"/><path d="M267.8 429.0V434.0M265.6 429.0h4.4M265.6 434.0h4.4" stroke="#3fdc3f" stroke-width="1.1" fill="none"/><path d="M265.5 433.6H270.1L267.8 430.0Z" stroke="#3fdc3f" stroke-width="1.15" fill="none" stroke-linejoin="miter"/><path d="M272.3 451.0V456.0M270.1 451.0h4.4M270.1 456.0h4.4" stroke="#e01010" stroke-width="1.1" fill="none"/><path d="M270.0 455.5H274.6L272.3 451.9Z" stroke="#e01010" stroke-width="1.0" fill="#e01010" stroke-linejoin="miter"/><path d="M280.8 438.6V458.9M278.3 438.6h5.0M278.3 458.9h5.0" stroke="#1008b8" stroke-width="1.2" fill="none"/><path d="M278.5 451.7H283.1L280.8 448.1Z" stroke="#1008b8" stroke-width="1.15" fill="none" stroke-linejoin="miter"/><path d="M284.8 425.5V431.1M282.6 425.5h4.4M282.6 431.1h4.4" stroke="#3fdc3f" stroke-width="1.1" fill="none"/><path d="M282.5 430.6H287.1L284.8 427.0Z" stroke="#3fdc3f" stroke-width="1.15" fill="none" stroke-linejoin="miter"/><path d="M289.5 420.5V432.2M287.3 420.5h4.4M287.3 432.2h4.4" stroke="#e01010" stroke-width="1.1" fill="none"/><path d="M287.2 428.4H291.8L289.5 424.8Z" stroke="#e01010" stroke-width="1.0" fill="#e01010" stroke-linejoin="miter"/><path d="M298.5 436.3V457.5M296.0 436.3h5.0M296.0 457.5h5.0" stroke="#1008b8" stroke-width="1.2" fill="none"/><path d="M296.2 448.7H300.8L298.5 445.1Z" stroke="#1008b8" stroke-width="1.15" fill="none" stroke-linejoin="miter"/><path d="M302.6 436.0V441.0M300.4 436.0h4.4M300.4 441.0h4.4" stroke="#3fdc3f" stroke-width="1.1" fill="none"/><path d="M300.3 440.4H304.9L302.6 436.8Z" stroke="#3fdc3f" stroke-width="1.15" fill="none" stroke-linejoin="miter"/><path d="M306.7 427.3V445.3M304.5 427.3h4.4M304.5 445.3h4.4" stroke="#e01010" stroke-width="1.1" fill="none"/><path d="M304.4 439.0H309.0L306.7 435.4Z" stroke="#e01010" stroke-width="1.0" fill="#e01010" stroke-linejoin="miter"/><path d="M315.7 435.6V450.3M313.2 435.6h5.0M313.2 450.3h5.0" stroke="#1008b8" stroke-width="1.2" fill="none"/><path d="M313.4 445.3H318.0L315.7 441.7Z" stroke="#1008b8" stroke-width="1.15" fill="none" stroke-linejoin="miter"/><path d="M320.2 433.0V438.0M318.0 433.0h4.4M318.0 438.0h4.4" stroke="#3fdc3f" stroke-width="1.1" fill="none"/><path d="M317.9 437.4H322.5L320.2 433.8Z" stroke="#3fdc3f" stroke-width="1.15" fill="none" stroke-linejoin="miter"/><path d="M324.7 451.4V458.9M322.5 451.4h4.4M322.5 458.9h4.4" stroke="#e01010" stroke-width="1.1" fill="none"/><path d="M322.4 457.8H327.0L324.7 454.2Z" stroke="#e01010" stroke-width="1.0" fill="#e01010" stroke-linejoin="miter"/><path d="M332.4 430.4V442.4M329.9 430.4h5.0M329.9 442.4h5.0" stroke="#1008b8" stroke-width="1.2" fill="none"/><path d="M330.1 439.0H334.7L332.4 435.4Z" stroke="#1008b8" stroke-width="1.15" fill="none" stroke-linejoin="miter"/><path d="M337.6 437.0V441.0M335.4 437.0h4.4M335.4 441.0h4.4" stroke="#3fdc3f" stroke-width="1.1" fill="none"/><path d="M335.3 440.8H339.9L337.6 437.2Z" stroke="#3fdc3f" stroke-width="1.15" fill="none" stroke-linejoin="miter"/><path d="M341.5 432.0V436.0M339.3 432.0h4.4M339.3 436.0h4.4" stroke="#e01010" stroke-width="1.1" fill="none"/><path d="M339.2 435.8H343.8L341.5 432.2Z" stroke="#e01010" stroke-width="1.0" fill="#e01010" stroke-linejoin="miter"/><path d="M350.5 438.6V448.0M348.0 438.6h5.0M348.0 448.0h5.0" stroke="#1008b8" stroke-width="1.2" fill="none"/><path d="M348.2 445.3H352.8L350.5 441.7Z" stroke="#1008b8" stroke-width="1.15" fill="none" stroke-linejoin="miter"/><path d="M354.6 437.5V441.5M352.4 437.5h4.4M352.4 441.5h4.4" stroke="#3fdc3f" stroke-width="1.1" fill="none"/><path d="M352.3 441.3H356.9L354.6 437.7Z" stroke="#3fdc3f" stroke-width="1.15" fill="none" stroke-linejoin="miter"/><path d="M356.5 439.0H361.1L358.8 435.4Z" stroke="#e01010" stroke-width="1.0" fill="#e01010" stroke-linejoin="miter"/><path d="M367.4 428.2V442.4M364.9 428.2h5.0M364.9 442.4h5.0" stroke="#1008b8" stroke-width="1.2" fill="none"/><path d="M365.1 439.0H369.7L367.4 435.4Z" stroke="#1008b8" stroke-width="1.15" fill="none" stroke-linejoin="miter"/><path d="M372.0 430.4V435.6M369.8 430.4h4.4M369.8 435.6h4.4" stroke="#3fdc3f" stroke-width="1.1" fill="none"/><path d="M369.7 435.2H374.3L372.0 431.6Z" stroke="#3fdc3f" stroke-width="1.15" fill="none" stroke-linejoin="miter"/><path d="M374.2 432.2H378.8L376.5 428.6Z" stroke="#e01010" stroke-width="1.0" fill="#e01010" stroke-linejoin="miter"/><path d="M384.8 435.6V449.9M382.3 435.6h5.0M382.3 449.9h5.0" stroke="#1008b8" stroke-width="1.2" fill="none"/><path d="M382.5 444.9H387.1L384.8 441.3Z" stroke="#1008b8" stroke-width="1.15" fill="none" stroke-linejoin="miter"/><path d="M389.4 442.4V450.3M387.2 442.4h4.4M387.2 450.3h4.4" stroke="#3fdc3f" stroke-width="1.1" fill="none"/><path d="M387.1 448.7H391.7L389.4 445.1Z" stroke="#3fdc3f" stroke-width="1.15" fill="none" stroke-linejoin="miter"/><path d="M393.4 435.0V439.5M391.2 435.0h4.4M391.2 439.5h4.4" stroke="#e01010" stroke-width="1.1" fill="none"/><path d="M391.1 439.0H395.7L393.4 435.4Z" stroke="#e01010" stroke-width="1.0" fill="#e01010" stroke-linejoin="miter"/><path d="M402.0 415.3V436.3M399.5 415.3h5.0M399.5 436.3h5.0" stroke="#1008b8" stroke-width="1.2" fill="none"/><path d="M399.7 428.4H404.3L402.0 424.8Z" stroke="#1008b8" stroke-width="1.15" fill="none" stroke-linejoin="miter"/><path d="M406.5 428.2V434.0M404.3 428.2h4.4M404.3 434.0h4.4" stroke="#3fdc3f" stroke-width="1.1" fill="none"/><path d="M404.2 433.6H408.8L406.5 430.0Z" stroke="#3fdc3f" stroke-width="1.15" fill="none" stroke-linejoin="miter"/><path d="M409.2 442.1H413.8L411.5 438.5Z" stroke="#e01010" stroke-width="1.0" fill="#e01010" stroke-linejoin="miter"/><path d="M419.5 453.1V466.3M417.0 453.1h5.0M417.0 466.3h5.0" stroke="#1008b8" stroke-width="1.2" fill="none"/><path d="M417.2 461.3H421.8L419.5 457.7Z" stroke="#1008b8" stroke-width="1.15" fill="none" stroke-linejoin="miter"/><path d="M424.5 426.0V435.1M422.3 426.0h4.4M422.3 435.1h4.4" stroke="#3fdc3f" stroke-width="1.1" fill="none"/><path d="M422.2 433.5H426.8L424.5 429.9Z" stroke="#3fdc3f" stroke-width="1.15" fill="none" stroke-linejoin="miter"/><path d="M426.3 442.1H430.9L428.6 438.5Z" stroke="#e01010" stroke-width="1.0" fill="#e01010" stroke-linejoin="miter"/><path d="M437.7 420.2V439.5M435.2 420.2h5.0M435.2 439.5h5.0" stroke="#1008b8" stroke-width="1.2" fill="none"/><path d="M435.4 432.6H440.0L437.7 429.0Z" stroke="#1008b8" stroke-width="1.15" fill="none" stroke-linejoin="miter"/><path d="M441.3 429.9V439.5M439.1 429.9h4.4M439.1 439.5h4.4" stroke="#3fdc3f" stroke-width="1.1" fill="none"/><path d="M439.0 436.5H443.6L441.3 432.9Z" stroke="#3fdc3f" stroke-width="1.15" fill="none" stroke-linejoin="miter"/><path d="M443.3 429.3H447.9L445.6 425.7Z" stroke="#e01010" stroke-width="1.0" fill="#e01010" stroke-linejoin="miter"/></g>
<g clip-path="url(#c6)"><path d="M535.6 493.4H540.4L538.0 489.6Z" stroke="#c0203a" stroke-width="1.1" fill="none" stroke-linejoin="miter"/><path d="M545.8 498.6H550.6L548.2 494.8Z" stroke="#3fdc3f" stroke-width="1.1" fill="none" stroke-linejoin="miter"/><path d="M553.1 467.4H557.9L555.5 463.6Z" stroke="#c0203a" stroke-width="1.1" fill="none" stroke-linejoin="miter"/><path d="M563.9 471.6H568.7L566.3 467.7Z" stroke="#3fdc3f" stroke-width="1.1" fill="none" stroke-linejoin="miter"/><path d="M570.0 461.3H574.8L572.4 457.4Z" stroke="#c0203a" stroke-width="1.1" fill="none" stroke-linejoin="miter"/><path d="M580.9 475.6H585.7L583.3 471.7Z" stroke="#3fdc3f" stroke-width="1.1" fill="none" stroke-linejoin="miter"/><path d="M594.0 452.2H598.8L596.4 448.4Z" stroke="#1008b8" stroke-width="1.1" fill="none" stroke-linejoin="miter"/><path d="M598.3 459.6H603.1L600.7 455.7Z" stroke="#3fdc3f" stroke-width="1.1" fill="none" stroke-linejoin="miter"/><path d="M605.1 466.3H609.9L607.5 462.4Z" stroke="#c0203a" stroke-width="1.1" fill="none" stroke-linejoin="miter"/><path d="M610.9 445.6H615.7L613.3 441.7Z" stroke="#1008b8" stroke-width="1.1" fill="none" stroke-linejoin="miter"/><path d="M616.1 437.1H620.9L618.5 433.2Z" stroke="#3fdc3f" stroke-width="1.1" fill="none" stroke-linejoin="miter"/><path d="M622.0 416.1H626.8L624.4 412.2Z" stroke="#c0203a" stroke-width="1.1" fill="none" stroke-linejoin="miter"/><path d="M629.0 471.8H633.8L631.4 467.9Z" stroke="#1008b8" stroke-width="1.1" fill="none" stroke-linejoin="miter"/><path d="M632.9 409.3H637.7L635.3 405.4Z" stroke="#3fdc3f" stroke-width="1.1" fill="none" stroke-linejoin="miter"/><path d="M639.6 491.1H644.4L642.0 487.2Z" stroke="#c0203a" stroke-width="1.1" fill="none" stroke-linejoin="miter"/><path d="M646.0 446.8H650.8L648.4 442.9Z" stroke="#1008b8" stroke-width="1.1" fill="none" stroke-linejoin="miter"/><path d="M650.5 436.4H655.3L652.9 432.6Z" stroke="#3fdc3f" stroke-width="1.1" fill="none" stroke-linejoin="miter"/><path d="M656.5 424.6H661.3L658.9 420.7Z" stroke="#c0203a" stroke-width="1.1" fill="none" stroke-linejoin="miter"/><path d="M663.4 446.6H668.2L665.8 442.8Z" stroke="#1008b8" stroke-width="1.1" fill="none" stroke-linejoin="miter"/><path d="M667.9 443.2H672.7L670.3 439.4Z" stroke="#3fdc3f" stroke-width="1.1" fill="none" stroke-linejoin="miter"/><path d="M681.1 455.2H685.9L683.5 451.4Z" stroke="#1008b8" stroke-width="1.1" fill="none" stroke-linejoin="miter"/><path d="M685.4 432.4H690.2L687.8 428.6Z" stroke="#3fdc3f" stroke-width="1.1" fill="none" stroke-linejoin="miter"/><path d="M692.1 406.4H696.9L694.5 402.6Z" stroke="#c0203a" stroke-width="1.1" fill="none" stroke-linejoin="miter"/><path d="M698.0 432.4H702.8L700.4 428.6Z" stroke="#1008b8" stroke-width="1.1" fill="none" stroke-linejoin="miter"/><path d="M703.0 441.4H707.8L705.4 437.6Z" stroke="#3fdc3f" stroke-width="1.1" fill="none" stroke-linejoin="miter"/><path d="M709.1 441.4H713.9L711.5 437.6Z" stroke="#c0203a" stroke-width="1.1" fill="none" stroke-linejoin="miter"/><path d="M715.9 441.4H720.7L718.3 437.6Z" stroke="#1008b8" stroke-width="1.1" fill="none" stroke-linejoin="miter"/><path d="M719.9 392.3H724.7L722.3 388.4Z" stroke="#3fdc3f" stroke-width="1.1" fill="none" stroke-linejoin="miter"/><path d="M732.8 454.6H737.6L735.2 450.7Z" stroke="#1008b8" stroke-width="1.1" fill="none" stroke-linejoin="miter"/><path d="M737.1 422.4H741.9L739.5 418.6Z" stroke="#3fdc3f" stroke-width="1.1" fill="none" stroke-linejoin="miter"/><path d="M750.0 450.4H754.8L752.4 446.6Z" stroke="#1008b8" stroke-width="1.1" fill="none" stroke-linejoin="miter"/><path d="M755.2 400.9H760.0L757.6 397.1Z" stroke="#3fdc3f" stroke-width="1.1" fill="none" stroke-linejoin="miter"/><path d="M768.4 415.4H773.2L770.8 411.6Z" stroke="#1008b8" stroke-width="1.1" fill="none" stroke-linejoin="miter"/><path d="M772.0 422.4H776.8L774.4 418.6Z" stroke="#3fdc3f" stroke-width="1.1" fill="none" stroke-linejoin="miter"/><path d="M778.9 455.6H783.7L781.3 451.7Z" stroke="#c0203a" stroke-width="1.1" fill="none" stroke-linejoin="miter"/><path d="M785.2 384.9H790.0L787.6 381.1Z" stroke="#1008b8" stroke-width="1.1" fill="none" stroke-linejoin="miter"/><path d="M789.3 398.1H794.1L791.7 394.2Z" stroke="#3fdc3f" stroke-width="1.1" fill="none" stroke-linejoin="miter"/><path d="M802.2 392.3H807.0L804.6 388.4Z" stroke="#1008b8" stroke-width="1.1" fill="none" stroke-linejoin="miter"/><path d="M824.1 446.1H828.9L826.5 442.2Z" stroke="#3fdc3f" stroke-width="1.1" fill="none" stroke-linejoin="miter"/><path d="M837.0 395.3H841.8L839.4 391.4Z" stroke="#1008b8" stroke-width="1.1" fill="none" stroke-linejoin="miter"/><path d="M841.7 442.6H846.5L844.1 438.7Z" stroke="#3fdc3f" stroke-width="1.1" fill="none" stroke-linejoin="miter"/><path d="M859.1 446.1H863.9L861.5 442.2Z" stroke="#3fdc3f" stroke-width="1.1" fill="none" stroke-linejoin="miter"/><path d="M872.0 411.1H876.8L874.4 407.2Z" stroke="#1008b8" stroke-width="1.1" fill="none" stroke-linejoin="miter"/><path d="M876.1 448.1H880.9L878.5 444.2Z" stroke="#3fdc3f" stroke-width="1.1" fill="none" stroke-linejoin="miter"/><path d="M882.8 454.1H887.6L885.2 450.2Z" stroke="#c0203a" stroke-width="1.1" fill="none" stroke-linejoin="miter"/><path d="M894.1 434.8H898.9L896.5 430.9Z" stroke="#3fdc3f" stroke-width="1.1" fill="none" stroke-linejoin="miter"/><path d="M900.2 463.9H905.0L902.6 460.1Z" stroke="#c0203a" stroke-width="1.1" fill="none" stroke-linejoin="miter"/><path d="M910.8 495.1H915.6L913.2 491.2Z" stroke="#3fdc3f" stroke-width="1.1" fill="none" stroke-linejoin="miter"/></g>
<path d="M545 33.5h26" stroke="#000" stroke-width="1" stroke-dasharray="1 4" fill="none"/>
<path d="M545 48.5h27.5" stroke="#000" stroke-width="1" fill="none"/>
<text x="581" y="40" font-size="11" text-anchor="start" fill="#000" textLength="29" lengthAdjust="spacingAndGlyphs">Zenith</text>
<text x="580.4" y="54" font-size="11" text-anchor="start" fill="#000" textLength="27.0" lengthAdjust="spacingAndGlyphs">NSWE</text>
<text x="611.3" y="54" font-size="11" text-anchor="start" fill="#000" textLength="39.2" lengthAdjust="spacingAndGlyphs">Average</text>
<text x="822.3" y="42.5" font-size="15" text-anchor="start" fill="#1c1c96" textLength="37.5" lengthAdjust="spacingAndGlyphs">8920</text>
<path clip-path="url(#c2)" d="M530.0 137.3 L600.0 137.0 L616.0 135.0 L630.0 137.5 L650.0 138.0 L700.0 138.0 L720.3 137.5 L731.5 -120.0 L735.0 -120.0 L754.3 128.7 L790.0 134.5 L800.6 114.0 L806.4 106.0 L819.0 107.0 L826.8 113.0 L831.0 118.0 L845.0 133.0 L855.0 135.5 L880.0 135.5 L900.0 136.5 L913.0 136.5" stroke="#2fd42f" stroke-width="1" fill="none" stroke-linejoin="round" stroke-dasharray="6.5 7.5"/>
<path clip-path="url(#c2)" d="M529.5 133.5 L541.0 134.4 L592.0 134.5 L604.0 136.0 L616.0 136.5 L629.0 137.5 L649.0 137.3 L700.0 137.0 L723.0 136.9 L723.5 125.2 L739.8 55.8 L753.6 121.7 L756.6 133.3 L770.0 134.5 L789.0 134.4 L795.7 117.8 L809.3 80.5 L824.9 91.6 L833.7 110.0 L843.4 130.5 L852.5 135.0 L862.2 136.3 L876.8 131.4 L891.4 134.4 L913.8 133.0" stroke="#2fd42f" stroke-width="1" fill="none" stroke-linejoin="round"/>
<path clip-path="url(#c2)" d="M537.0 136.3 L560.0 134.8 L590.0 133.5 L600.0 132.5 L615.0 131.5 L630.0 130.0 L645.0 131.3 L700.0 130.5 L760.0 129.9 L790.0 127.0 L806.0 124.6 L820.0 125.0 L845.0 126.6 L868.0 129.0 L880.0 125.6 L894.0 126.4 L905.0 129.1" stroke="#1410a8" stroke-width="1" fill="none" stroke-linejoin="round" stroke-dasharray="6.5 7.5"/>
<path clip-path="url(#c2)" d="M541.5 133.5 L570.0 134.0 L596.5 130.0 L610.0 128.3 L621.5 128.3 L629.0 129.8 L641.5 128.3 L655.0 127.0 L665.0 126.3 L705.0 126.3 L712.0 127.2 L725.0 128.0 L760.0 128.3 L772.0 128.8 L790.0 125.5 L808.0 123.3 L824.0 123.3 L835.0 125.6 L850.6 127.2 L868.0 128.5 L879.7 125.2 L892.4 118.2 L909.9 123.3" stroke="#1410a8" stroke-width="1" fill="none" stroke-linejoin="round"/>
<path clip-path="url(#c2)" d="M537.8 91.6 L555.3 76.0 L572.8 102.3 L587.4 113.9 L599.0 116.3 L614.6 117.8 L626.3 120.2 L640.8 123.7 L668.0 127.0 L686.0 128.8 L698.0 130.6 L708.0 128.0 L722.0 119.5 L735.0 121.0 L745.0 126.0 L763.6 131.4 L779.0 133.4 L798.6 94.0 L814.0 76.6 L833.7 75.0 L847.3 102.3 L853.0 113.0 L868.0 116.3 L876.0 92.0 L882.0 76.0 L886.0 65.0 L903.0 62.0 L915.0 80.0" stroke="#c4161c" stroke-width="1" fill="none" stroke-linejoin="round" stroke-dasharray="6.5 7.5"/>
<path clip-path="url(#c2)" d="M537.8 55.2 L554.3 64.3 L572.0 83.5 L590.9 103.2 L606.8 105.2 L624.3 120.2 L643.0 121.8 L666.3 123.7 L684.8 125.3 L708.0 127.0 L723.0 122.5 L746.2 112.3 L761.7 131.4 L781.1 134.4 L798.6 93.5 L816.1 78.9 L833.7 71.1 L850.6 108.1 L868.1 116.3 L885.6 56.5 L903.1 62.4 L920.6 56.5" stroke="#c4161c" stroke-width="1" fill="none" stroke-linejoin="round"/>
<g stroke="#000" stroke-width="1" fill="none"><path d="M544.7 211.5h9M570.4 211.5h3"/><path d="M558.5 211.5h1M563 211.5h1M567.5 211.5h1"/><path d="M600.5 211.5h27.5"/><path d="M654.5 211.5h5.5M667.8 211.5h7.2M682.5 211.5h1"/><path d="M600 226.5h28" stroke-dasharray="1 3"/><path d="M654.5 226.5h5.5M662.5 226.5h1M666 226.5h6.5M675 226.5h1M678.5 226.5h5"/></g>
<text x="581.2" y="218" font-size="11" text-anchor="start" fill="#000" textLength="5.2" lengthAdjust="spacingAndGlyphs">Z</text>
<text x="635.8" y="218" font-size="11" text-anchor="start" fill="#000" textLength="5.7" lengthAdjust="spacingAndGlyphs">N</text>
<text x="689.8" y="218" font-size="11" text-anchor="start" fill="#000" textLength="7.4" lengthAdjust="spacingAndGlyphs">W</text>
<text x="635" y="231.7" font-size="11" text-anchor="start" fill="#000" textLength="6" lengthAdjust="spacingAndGlyphs">S</text>
<text x="689.8" y="231.7" font-size="11" text-anchor="start" fill="#000" textLength="5.5" lengthAdjust="spacingAndGlyphs">E</text>
<path clip-path="url(#c4)" d="M562.5 330.0 L572.5 232.0 L588.3 235.8 L605.0 232.5 L618.3 236.7 L643.3 238.3 L676.7 240.0 L720.0 241.7 L745.0 243.0 L775.4 247.4 L797.1 243.0 L831.0 240.2 L844.6 244.0 L867.9 246.7 L869.0 247.5 L874.8 330.0" stroke="#c4161c" stroke-width="1" fill="none" stroke-linejoin="round"/>
<path clip-path="url(#c4)" d="M558.8 330.0 L568.5 232.0 L588.0 236.8 L605.0 234.0 L618.3 237.5 L643.3 239.3 L676.7 241.0 L720.0 242.5 L745.0 244.0 L775.4 248.2 L797.1 244.0 L831.0 241.0 L844.6 245.0 L866.0 246.0 L880.0 241.5 L893.0 239.0 L898.5 236.0 L901.0 250.0 L908.0 330.0" stroke="#c4161c" stroke-width="1" fill="none" stroke-linejoin="round" stroke-dasharray="6.5 7"/>
<path clip-path="url(#c4)" d="M560.5 330.0 L570.0 232.0 L588.0 235.0 L605.0 231.8 L618.3 236.0 L643.3 237.8 L676.7 239.5 L720.0 241.0 L745.0 242.5 L775.4 246.8 L797.1 242.4 L831.0 239.5 L844.6 243.0 L858.0 241.0 L873.8 239.8 L889.7 234.8 L899.6 225.9 L905.6 330.0" stroke="#c4161c" stroke-width="1" fill="none" stroke-linejoin="round" stroke-dasharray="5.5 2.5 1 2.5"/>
<path clip-path="url(#c4)" d="M580.5 330.0 L586.2 241.5 L590.0 230.0 L630.0 230.5 L680.0 238.0 L720.0 240.0 L775.0 245.5 L800.0 241.0 L831.0 238.5 L866.0 243.0 L878.0 250.0 L885.0 262.0 L896.0 330.0" stroke="#c4161c" stroke-width="1" fill="none" stroke-linejoin="round" stroke-dasharray="1 3" stroke-opacity="0.7"/>
<path clip-path="url(#c4)" d="M544.3 254.3 L561.2 264.0 L577.3 270.7 L579.0 272.4 L620.0 273.0 L680.0 274.0 L719.0 274.6 L725.0 268.8 L737.2 254.4 L753.1 275.7 L800.0 277.0 L874.0 278.5 L901.6 268.6 L919.4 256.7 L921.0 256.0" stroke="#c4161c" stroke-width="1" fill="none" stroke-linejoin="round"/>
<path clip-path="url(#c4)" d="M544.3 259.0 L550.7 330.0" stroke="#1410a8" stroke-width="1" fill="none" stroke-linejoin="round"/>
<path clip-path="url(#c4)" d="M572.5 330.0 L579.0 272.0 L620.0 270.0 L700.0 270.0 L760.0 271.5 L800.0 273.5 L873.8 274.5 L879.4 330.0" stroke="#1410a8" stroke-width="1" fill="none" stroke-linejoin="round"/>
<path clip-path="url(#c4)" d="M543.5 254.0 L554.8 258.8 L569.3 267.2 L579.0 269.6 L620.0 269.0 L700.0 269.5 L760.0 270.5 L873.0 273.0 L877.0 271.0 L882.7 265.6 L892.0 259.0 L897.6 257.7 L907.5 257.7" stroke="#1410a8" stroke-width="1" fill="none" stroke-linejoin="round" stroke-dasharray="6.5 7"/>
<path clip-path="url(#c4)" d="M544.0 236.0 L545.0 256.0 L548.0 330.0" stroke="#1410a8" stroke-width="1" fill="none" stroke-linejoin="round" stroke-dasharray="1 3" stroke-opacity="0.7"/>
<path clip-path="url(#c4)" d="M578.0 330.0 L581.0 268.0 L620.0 266.0 L700.0 266.5 L800.0 269.0 L870.0 268.0 L880.0 258.0 L885.0 250.0 L893.0 330.0" stroke="#1410a8" stroke-width="1" fill="none" stroke-linejoin="round" stroke-dasharray="1 3" stroke-opacity="0.7"/>
<path clip-path="url(#c4)" d="M529.5 245.5 L546.7 254.3 L566.0 264.0 L579.0 271.2 L620.0 272.0 L660.0 273.0 L700.0 274.0 L719.0 275.0 L738.0 271.1 L753.0 274.0 L760.0 275.0 L788.0 276.8 L806.2 272.8 L834.0 276.8 L875.8 278.5 L913.5 256.7 L921.0 252.0" stroke="#2fd42f" stroke-width="1" fill="none" stroke-linejoin="round"/>
<path clip-path="url(#c4)" d="M529.5 253.5 L545.0 260.0 L569.3 270.4 L579.0 272.0 L700.0 275.0 L760.0 276.0 L790.0 277.5 L806.0 273.5 L840.0 278.0 L875.8 278.5 L909.5 267.6" stroke="#2fd42f" stroke-width="1" fill="none" stroke-linejoin="round" stroke-dasharray="6.5 7"/>
<path clip-path="url(#c4)" d="M700.0 274.0 L719.0 275.7 L724.3 330.0 L747.0 330.0 L752.4 276.4 L770.0 276.0" stroke="#2fd42f" stroke-width="1" fill="none" stroke-linejoin="round" stroke-dasharray="5.5 2.5 1 2.5"/>
<path clip-path="url(#c4)" d="M725.0 270.0 L738.0 262.8 L748.6 268.8 L753.0 275.0" stroke="#2fd42f" stroke-width="1" fill="none" stroke-linejoin="round" stroke-dasharray="1 3" stroke-opacity="0.8"/>
</svg>
</body></html>
